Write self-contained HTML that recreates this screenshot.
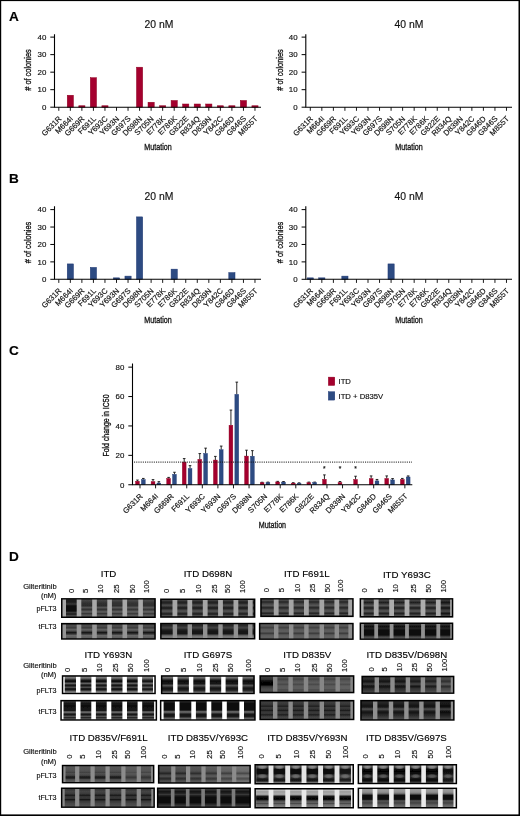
<!DOCTYPE html>
<html><head><meta charset="utf-8"><title>Figure</title>
<style>html,body{margin:0;padding:0;background:#fff;}body{width:520px;height:816px;overflow:hidden;font-family:"Liberation Sans",Arial,sans-serif;}svg{display:block;}</style>
</head><body>
<svg width="520" height="816" viewBox="0 0 520 816" font-family="'Liberation Sans', Arial, sans-serif" fill="#111"><style>text{stroke:#111;stroke-width:0.16px;}</style>
<defs><filter id="bl" x="-5%" y="-5%" width="110%" height="110%"><feGaussianBlur stdDeviation="0.6 0.7"/></filter><filter id="bl2" x="-5%" y="-5%" width="110%" height="110%"><feGaussianBlur stdDeviation="0.5 0.6"/></filter><radialGradient id="rb00"><stop offset="0" stop-color="#000000" stop-opacity="1"/><stop offset="0.55" stop-color="#000000" stop-opacity="0.75"/><stop offset="1" stop-color="#000000" stop-opacity="0"/></radialGradient><radialGradient id="rb60"><stop offset="0" stop-color="#606060" stop-opacity="1"/><stop offset="0.55" stop-color="#606060" stop-opacity="0.75"/><stop offset="1" stop-color="#606060" stop-opacity="0"/></radialGradient><radialGradient id="rb70"><stop offset="0" stop-color="#707070" stop-opacity="1"/><stop offset="0.55" stop-color="#707070" stop-opacity="0.75"/><stop offset="1" stop-color="#707070" stop-opacity="0"/></radialGradient><radialGradient id="rb80"><stop offset="0" stop-color="#808080" stop-opacity="1"/><stop offset="0.55" stop-color="#808080" stop-opacity="0.75"/><stop offset="1" stop-color="#808080" stop-opacity="0"/></radialGradient><radialGradient id="rb90"><stop offset="0" stop-color="#909090" stop-opacity="1"/><stop offset="0.55" stop-color="#909090" stop-opacity="0.75"/><stop offset="1" stop-color="#909090" stop-opacity="0"/></radialGradient><radialGradient id="rba0"><stop offset="0" stop-color="#a0a0a0" stop-opacity="1"/><stop offset="0.55" stop-color="#a0a0a0" stop-opacity="0.75"/><stop offset="1" stop-color="#a0a0a0" stop-opacity="0"/></radialGradient></defs>
<rect x="0" y="0" width="520" height="816" fill="#fff"/>
<text x="9" y="20.6" font-size="13.6" font-weight="bold" fill="#000" stroke="#000" stroke-width="0.3">A</text>
<text x="9" y="183.4" font-size="13.6" font-weight="bold" fill="#000" stroke="#000" stroke-width="0.3">B</text>
<text x="9" y="355.3" font-size="13.6" font-weight="bold" fill="#000" stroke="#000" stroke-width="0.3">C</text>
<text x="9" y="560.7" font-size="13.6" font-weight="bold" fill="#000" stroke="#000" stroke-width="0.3">D</text>
<g>
<rect x="67.24" y="95.24" width="6.2" height="11.96" fill="#A4002E" stroke="#8E0020" stroke-width="0.5"/>
<rect x="78.78" y="105.75" width="6.2" height="1.45" fill="#A4002E" stroke="#8E0020" stroke-width="0.5"/>
<rect x="90.32" y="77.72" width="6.2" height="29.48" fill="#A4002E" stroke="#8E0020" stroke-width="0.5"/>
<rect x="101.86" y="105.75" width="6.2" height="1.45" fill="#A4002E" stroke="#8E0020" stroke-width="0.5"/>
<rect x="136.48" y="67.20" width="6.2" height="40.00" fill="#A4002E" stroke="#8E0020" stroke-width="0.5"/>
<rect x="148.02" y="102.24" width="6.2" height="4.96" fill="#A4002E" stroke="#8E0020" stroke-width="0.5"/>
<rect x="159.56" y="105.75" width="6.2" height="1.45" fill="#A4002E" stroke="#8E0020" stroke-width="0.5"/>
<rect x="171.10" y="100.49" width="6.2" height="6.71" fill="#A4002E" stroke="#8E0020" stroke-width="0.5"/>
<rect x="182.64" y="104.00" width="6.2" height="3.20" fill="#A4002E" stroke="#8E0020" stroke-width="0.5"/>
<rect x="194.18" y="104.00" width="6.2" height="3.20" fill="#A4002E" stroke="#8E0020" stroke-width="0.5"/>
<rect x="205.72" y="104.00" width="6.2" height="3.20" fill="#A4002E" stroke="#8E0020" stroke-width="0.5"/>
<rect x="217.26" y="105.75" width="6.2" height="1.45" fill="#A4002E" stroke="#8E0020" stroke-width="0.5"/>
<rect x="228.80" y="105.75" width="6.2" height="1.45" fill="#A4002E" stroke="#8E0020" stroke-width="0.5"/>
<rect x="240.34" y="100.49" width="6.2" height="6.71" fill="#A4002E" stroke="#8E0020" stroke-width="0.5"/>
<rect x="251.88" y="105.75" width="6.2" height="1.45" fill="#A4002E" stroke="#8E0020" stroke-width="0.5"/>
<path d="M54.5 34.2 V107.2 H261" fill="none" stroke="#000" stroke-width="1.1"/>
<line x1="50.3" x2="54.5" y1="107.20" y2="107.20" stroke="#000" stroke-width="1"/>
<text x="46.3" y="109.95" font-size="7.9" text-anchor="end">0</text>
<line x1="50.3" x2="54.5" y1="89.68" y2="89.68" stroke="#000" stroke-width="1"/>
<text x="46.3" y="92.43" font-size="7.9" text-anchor="end">10</text>
<line x1="50.3" x2="54.5" y1="72.16" y2="72.16" stroke="#000" stroke-width="1"/>
<text x="46.3" y="74.91" font-size="7.9" text-anchor="end">20</text>
<line x1="50.3" x2="54.5" y1="54.64" y2="54.64" stroke="#000" stroke-width="1"/>
<text x="46.3" y="57.39" font-size="7.9" text-anchor="end">30</text>
<line x1="50.3" x2="54.5" y1="37.12" y2="37.12" stroke="#000" stroke-width="1"/>
<text x="46.3" y="39.87" font-size="7.9" text-anchor="end">40</text>
<line x1="58.80" x2="58.80" y1="107.2" y2="110.8" stroke="#000" stroke-width="0.9"/>
<text font-size="7.7" text-anchor="end" transform="translate(61.90 119.20) rotate(-45)">G631R</text>
<line x1="70.34" x2="70.34" y1="107.2" y2="110.8" stroke="#000" stroke-width="0.9"/>
<text font-size="7.7" text-anchor="end" transform="translate(73.44 119.20) rotate(-45)">M664I</text>
<line x1="81.88" x2="81.88" y1="107.2" y2="110.8" stroke="#000" stroke-width="0.9"/>
<text font-size="7.7" text-anchor="end" transform="translate(84.98 119.20) rotate(-45)">G669R</text>
<line x1="93.42" x2="93.42" y1="107.2" y2="110.8" stroke="#000" stroke-width="0.9"/>
<text font-size="7.7" text-anchor="end" transform="translate(96.52 119.20) rotate(-45)">F691L</text>
<line x1="104.96" x2="104.96" y1="107.2" y2="110.8" stroke="#000" stroke-width="0.9"/>
<text font-size="7.7" text-anchor="end" transform="translate(108.06 119.20) rotate(-45)">Y693C</text>
<line x1="116.50" x2="116.50" y1="107.2" y2="110.8" stroke="#000" stroke-width="0.9"/>
<text font-size="7.7" text-anchor="end" transform="translate(119.60 119.20) rotate(-45)">Y693N</text>
<line x1="128.04" x2="128.04" y1="107.2" y2="110.8" stroke="#000" stroke-width="0.9"/>
<text font-size="7.7" text-anchor="end" transform="translate(131.14 119.20) rotate(-45)">G697S</text>
<line x1="139.58" x2="139.58" y1="107.2" y2="110.8" stroke="#000" stroke-width="0.9"/>
<text font-size="7.7" text-anchor="end" transform="translate(142.68 119.20) rotate(-45)">D698N</text>
<line x1="151.12" x2="151.12" y1="107.2" y2="110.8" stroke="#000" stroke-width="0.9"/>
<text font-size="7.7" text-anchor="end" transform="translate(154.22 119.20) rotate(-45)">S705N</text>
<line x1="162.66" x2="162.66" y1="107.2" y2="110.8" stroke="#000" stroke-width="0.9"/>
<text font-size="7.7" text-anchor="end" transform="translate(165.76 119.20) rotate(-45)">E778K</text>
<line x1="174.20" x2="174.20" y1="107.2" y2="110.8" stroke="#000" stroke-width="0.9"/>
<text font-size="7.7" text-anchor="end" transform="translate(177.30 119.20) rotate(-45)">E786K</text>
<line x1="185.74" x2="185.74" y1="107.2" y2="110.8" stroke="#000" stroke-width="0.9"/>
<text font-size="7.7" text-anchor="end" transform="translate(188.84 119.20) rotate(-45)">G822E</text>
<line x1="197.28" x2="197.28" y1="107.2" y2="110.8" stroke="#000" stroke-width="0.9"/>
<text font-size="7.7" text-anchor="end" transform="translate(200.38 119.20) rotate(-45)">R834Q</text>
<line x1="208.82" x2="208.82" y1="107.2" y2="110.8" stroke="#000" stroke-width="0.9"/>
<text font-size="7.7" text-anchor="end" transform="translate(211.92 119.20) rotate(-45)">D839N</text>
<line x1="220.36" x2="220.36" y1="107.2" y2="110.8" stroke="#000" stroke-width="0.9"/>
<text font-size="7.7" text-anchor="end" transform="translate(223.46 119.20) rotate(-45)">Y842C</text>
<line x1="231.90" x2="231.90" y1="107.2" y2="110.8" stroke="#000" stroke-width="0.9"/>
<text font-size="7.7" text-anchor="end" transform="translate(235.00 119.20) rotate(-45)">G846D</text>
<line x1="243.44" x2="243.44" y1="107.2" y2="110.8" stroke="#000" stroke-width="0.9"/>
<text font-size="7.7" text-anchor="end" transform="translate(246.54 119.20) rotate(-45)">G846S</text>
<line x1="254.98" x2="254.98" y1="107.2" y2="110.8" stroke="#000" stroke-width="0.9"/>
<text font-size="7.7" text-anchor="end" transform="translate(258.08 119.20) rotate(-45)">M855T</text>
<text x="159" y="27.9" font-size="10.4" text-anchor="middle">20 nM</text>
<text x="31.4" y="70" font-size="9.5" text-anchor="middle" textLength="41.5" lengthAdjust="spacingAndGlyphs" font-weight="normal" style="stroke-width:0.32px" transform="rotate(-90 31.4 70)"># of colonies</text>
<text x="158" y="150" font-size="9.8" text-anchor="middle" textLength="27.4" lengthAdjust="spacingAndGlyphs" font-weight="normal" style="stroke-width:0.32px">Mutation</text>
</g>
<g>
<path d="M305.8 34.2 V107.2 H512" fill="none" stroke="#000" stroke-width="1.1"/>
<line x1="301.6" x2="305.8" y1="107.20" y2="107.20" stroke="#000" stroke-width="1"/>
<text x="297.6" y="109.95" font-size="7.9" text-anchor="end">0</text>
<line x1="301.6" x2="305.8" y1="89.68" y2="89.68" stroke="#000" stroke-width="1"/>
<text x="297.6" y="92.43" font-size="7.9" text-anchor="end">10</text>
<line x1="301.6" x2="305.8" y1="72.16" y2="72.16" stroke="#000" stroke-width="1"/>
<text x="297.6" y="74.91" font-size="7.9" text-anchor="end">20</text>
<line x1="301.6" x2="305.8" y1="54.64" y2="54.64" stroke="#000" stroke-width="1"/>
<text x="297.6" y="57.39" font-size="7.9" text-anchor="end">30</text>
<line x1="301.6" x2="305.8" y1="37.12" y2="37.12" stroke="#000" stroke-width="1"/>
<text x="297.6" y="39.87" font-size="7.9" text-anchor="end">40</text>
<line x1="310.30" x2="310.30" y1="107.2" y2="110.8" stroke="#000" stroke-width="0.9"/>
<text font-size="7.7" text-anchor="end" transform="translate(313.40 119.20) rotate(-45)">G631R</text>
<line x1="321.84" x2="321.84" y1="107.2" y2="110.8" stroke="#000" stroke-width="0.9"/>
<text font-size="7.7" text-anchor="end" transform="translate(324.94 119.20) rotate(-45)">M664I</text>
<line x1="333.38" x2="333.38" y1="107.2" y2="110.8" stroke="#000" stroke-width="0.9"/>
<text font-size="7.7" text-anchor="end" transform="translate(336.48 119.20) rotate(-45)">G669R</text>
<line x1="344.92" x2="344.92" y1="107.2" y2="110.8" stroke="#000" stroke-width="0.9"/>
<text font-size="7.7" text-anchor="end" transform="translate(348.02 119.20) rotate(-45)">F691L</text>
<line x1="356.46" x2="356.46" y1="107.2" y2="110.8" stroke="#000" stroke-width="0.9"/>
<text font-size="7.7" text-anchor="end" transform="translate(359.56 119.20) rotate(-45)">Y693C</text>
<line x1="368.00" x2="368.00" y1="107.2" y2="110.8" stroke="#000" stroke-width="0.9"/>
<text font-size="7.7" text-anchor="end" transform="translate(371.10 119.20) rotate(-45)">Y693N</text>
<line x1="379.54" x2="379.54" y1="107.2" y2="110.8" stroke="#000" stroke-width="0.9"/>
<text font-size="7.7" text-anchor="end" transform="translate(382.64 119.20) rotate(-45)">G697S</text>
<line x1="391.08" x2="391.08" y1="107.2" y2="110.8" stroke="#000" stroke-width="0.9"/>
<text font-size="7.7" text-anchor="end" transform="translate(394.18 119.20) rotate(-45)">D698N</text>
<line x1="402.62" x2="402.62" y1="107.2" y2="110.8" stroke="#000" stroke-width="0.9"/>
<text font-size="7.7" text-anchor="end" transform="translate(405.72 119.20) rotate(-45)">S705N</text>
<line x1="414.16" x2="414.16" y1="107.2" y2="110.8" stroke="#000" stroke-width="0.9"/>
<text font-size="7.7" text-anchor="end" transform="translate(417.26 119.20) rotate(-45)">E778K</text>
<line x1="425.70" x2="425.70" y1="107.2" y2="110.8" stroke="#000" stroke-width="0.9"/>
<text font-size="7.7" text-anchor="end" transform="translate(428.80 119.20) rotate(-45)">E786K</text>
<line x1="437.24" x2="437.24" y1="107.2" y2="110.8" stroke="#000" stroke-width="0.9"/>
<text font-size="7.7" text-anchor="end" transform="translate(440.34 119.20) rotate(-45)">G822E</text>
<line x1="448.78" x2="448.78" y1="107.2" y2="110.8" stroke="#000" stroke-width="0.9"/>
<text font-size="7.7" text-anchor="end" transform="translate(451.88 119.20) rotate(-45)">R834Q</text>
<line x1="460.32" x2="460.32" y1="107.2" y2="110.8" stroke="#000" stroke-width="0.9"/>
<text font-size="7.7" text-anchor="end" transform="translate(463.42 119.20) rotate(-45)">D839N</text>
<line x1="471.86" x2="471.86" y1="107.2" y2="110.8" stroke="#000" stroke-width="0.9"/>
<text font-size="7.7" text-anchor="end" transform="translate(474.96 119.20) rotate(-45)">Y842C</text>
<line x1="483.40" x2="483.40" y1="107.2" y2="110.8" stroke="#000" stroke-width="0.9"/>
<text font-size="7.7" text-anchor="end" transform="translate(486.50 119.20) rotate(-45)">G846D</text>
<line x1="494.94" x2="494.94" y1="107.2" y2="110.8" stroke="#000" stroke-width="0.9"/>
<text font-size="7.7" text-anchor="end" transform="translate(498.04 119.20) rotate(-45)">G846S</text>
<line x1="506.48" x2="506.48" y1="107.2" y2="110.8" stroke="#000" stroke-width="0.9"/>
<text font-size="7.7" text-anchor="end" transform="translate(509.58 119.20) rotate(-45)">M855T</text>
<text x="409" y="27.9" font-size="10.4" text-anchor="middle">40 nM</text>
<text x="283" y="70" font-size="9.5" text-anchor="middle" textLength="41.5" lengthAdjust="spacingAndGlyphs" font-weight="normal" style="stroke-width:0.32px" transform="rotate(-90 283 70)"># of colonies</text>
<text x="409" y="150" font-size="9.8" text-anchor="middle" textLength="27.4" lengthAdjust="spacingAndGlyphs" font-weight="normal" style="stroke-width:0.32px">Mutation</text>
</g>
<g>
<rect x="67.24" y="263.92" width="6.2" height="15.38" fill="#2D4B82" stroke="#1B3470" stroke-width="0.5"/>
<rect x="90.32" y="267.41" width="6.2" height="11.89" fill="#2D4B82" stroke="#1B3470" stroke-width="0.5"/>
<rect x="113.40" y="277.86" width="6.2" height="1.44" fill="#2D4B82" stroke="#1B3470" stroke-width="0.5"/>
<rect x="124.94" y="276.12" width="6.2" height="3.18" fill="#2D4B82" stroke="#1B3470" stroke-width="0.5"/>
<rect x="136.48" y="216.89" width="6.2" height="62.41" fill="#2D4B82" stroke="#1B3470" stroke-width="0.5"/>
<rect x="171.10" y="269.15" width="6.2" height="10.15" fill="#2D4B82" stroke="#1B3470" stroke-width="0.5"/>
<rect x="228.80" y="272.63" width="6.2" height="6.67" fill="#2D4B82" stroke="#1B3470" stroke-width="0.5"/>
<path d="M54.5 206.2 V279.3 H261" fill="none" stroke="#000" stroke-width="1.1"/>
<line x1="50.3" x2="54.5" y1="279.30" y2="279.30" stroke="#000" stroke-width="1"/>
<text x="46.3" y="282.05" font-size="7.9" text-anchor="end">0</text>
<line x1="50.3" x2="54.5" y1="261.88" y2="261.88" stroke="#000" stroke-width="1"/>
<text x="46.3" y="264.63" font-size="7.9" text-anchor="end">10</text>
<line x1="50.3" x2="54.5" y1="244.46" y2="244.46" stroke="#000" stroke-width="1"/>
<text x="46.3" y="247.21" font-size="7.9" text-anchor="end">20</text>
<line x1="50.3" x2="54.5" y1="227.04" y2="227.04" stroke="#000" stroke-width="1"/>
<text x="46.3" y="229.79" font-size="7.9" text-anchor="end">30</text>
<line x1="50.3" x2="54.5" y1="209.62" y2="209.62" stroke="#000" stroke-width="1"/>
<text x="46.3" y="212.37" font-size="7.9" text-anchor="end">40</text>
<line x1="58.80" x2="58.80" y1="279.3" y2="282.90000000000003" stroke="#000" stroke-width="0.9"/>
<text font-size="7.7" text-anchor="end" transform="translate(61.90 291.30) rotate(-45)">G631R</text>
<line x1="70.34" x2="70.34" y1="279.3" y2="282.90000000000003" stroke="#000" stroke-width="0.9"/>
<text font-size="7.7" text-anchor="end" transform="translate(73.44 291.30) rotate(-45)">M664I</text>
<line x1="81.88" x2="81.88" y1="279.3" y2="282.90000000000003" stroke="#000" stroke-width="0.9"/>
<text font-size="7.7" text-anchor="end" transform="translate(84.98 291.30) rotate(-45)">G669R</text>
<line x1="93.42" x2="93.42" y1="279.3" y2="282.90000000000003" stroke="#000" stroke-width="0.9"/>
<text font-size="7.7" text-anchor="end" transform="translate(96.52 291.30) rotate(-45)">F691L</text>
<line x1="104.96" x2="104.96" y1="279.3" y2="282.90000000000003" stroke="#000" stroke-width="0.9"/>
<text font-size="7.7" text-anchor="end" transform="translate(108.06 291.30) rotate(-45)">Y693C</text>
<line x1="116.50" x2="116.50" y1="279.3" y2="282.90000000000003" stroke="#000" stroke-width="0.9"/>
<text font-size="7.7" text-anchor="end" transform="translate(119.60 291.30) rotate(-45)">Y693N</text>
<line x1="128.04" x2="128.04" y1="279.3" y2="282.90000000000003" stroke="#000" stroke-width="0.9"/>
<text font-size="7.7" text-anchor="end" transform="translate(131.14 291.30) rotate(-45)">G697S</text>
<line x1="139.58" x2="139.58" y1="279.3" y2="282.90000000000003" stroke="#000" stroke-width="0.9"/>
<text font-size="7.7" text-anchor="end" transform="translate(142.68 291.30) rotate(-45)">D698N</text>
<line x1="151.12" x2="151.12" y1="279.3" y2="282.90000000000003" stroke="#000" stroke-width="0.9"/>
<text font-size="7.7" text-anchor="end" transform="translate(154.22 291.30) rotate(-45)">S705N</text>
<line x1="162.66" x2="162.66" y1="279.3" y2="282.90000000000003" stroke="#000" stroke-width="0.9"/>
<text font-size="7.7" text-anchor="end" transform="translate(165.76 291.30) rotate(-45)">E778K</text>
<line x1="174.20" x2="174.20" y1="279.3" y2="282.90000000000003" stroke="#000" stroke-width="0.9"/>
<text font-size="7.7" text-anchor="end" transform="translate(177.30 291.30) rotate(-45)">E786K</text>
<line x1="185.74" x2="185.74" y1="279.3" y2="282.90000000000003" stroke="#000" stroke-width="0.9"/>
<text font-size="7.7" text-anchor="end" transform="translate(188.84 291.30) rotate(-45)">G822E</text>
<line x1="197.28" x2="197.28" y1="279.3" y2="282.90000000000003" stroke="#000" stroke-width="0.9"/>
<text font-size="7.7" text-anchor="end" transform="translate(200.38 291.30) rotate(-45)">R834Q</text>
<line x1="208.82" x2="208.82" y1="279.3" y2="282.90000000000003" stroke="#000" stroke-width="0.9"/>
<text font-size="7.7" text-anchor="end" transform="translate(211.92 291.30) rotate(-45)">D839N</text>
<line x1="220.36" x2="220.36" y1="279.3" y2="282.90000000000003" stroke="#000" stroke-width="0.9"/>
<text font-size="7.7" text-anchor="end" transform="translate(223.46 291.30) rotate(-45)">Y842C</text>
<line x1="231.90" x2="231.90" y1="279.3" y2="282.90000000000003" stroke="#000" stroke-width="0.9"/>
<text font-size="7.7" text-anchor="end" transform="translate(235.00 291.30) rotate(-45)">G846D</text>
<line x1="243.44" x2="243.44" y1="279.3" y2="282.90000000000003" stroke="#000" stroke-width="0.9"/>
<text font-size="7.7" text-anchor="end" transform="translate(246.54 291.30) rotate(-45)">G846S</text>
<line x1="254.98" x2="254.98" y1="279.3" y2="282.90000000000003" stroke="#000" stroke-width="0.9"/>
<text font-size="7.7" text-anchor="end" transform="translate(258.08 291.30) rotate(-45)">M855T</text>
<text x="159" y="199.5" font-size="10.4" text-anchor="middle">20 nM</text>
<text x="31.4" y="242.5" font-size="9.5" text-anchor="middle" textLength="41.5" lengthAdjust="spacingAndGlyphs" font-weight="normal" style="stroke-width:0.32px" transform="rotate(-90 31.4 242.5)"># of colonies</text>
<text x="158" y="322.5" font-size="9.8" text-anchor="middle" textLength="27.4" lengthAdjust="spacingAndGlyphs" font-weight="normal" style="stroke-width:0.32px">Mutation</text>
</g>
<g>
<rect x="307.20" y="277.86" width="6.2" height="1.44" fill="#2D4B82" stroke="#1B3470" stroke-width="0.5"/>
<rect x="318.74" y="277.86" width="6.2" height="1.44" fill="#2D4B82" stroke="#1B3470" stroke-width="0.5"/>
<rect x="341.82" y="276.12" width="6.2" height="3.18" fill="#2D4B82" stroke="#1B3470" stroke-width="0.5"/>
<rect x="387.98" y="263.92" width="6.2" height="15.38" fill="#2D4B82" stroke="#1B3470" stroke-width="0.5"/>
<path d="M305.8 206.2 V279.3 H512" fill="none" stroke="#000" stroke-width="1.1"/>
<line x1="301.6" x2="305.8" y1="279.30" y2="279.30" stroke="#000" stroke-width="1"/>
<text x="297.6" y="282.05" font-size="7.9" text-anchor="end">0</text>
<line x1="301.6" x2="305.8" y1="261.88" y2="261.88" stroke="#000" stroke-width="1"/>
<text x="297.6" y="264.63" font-size="7.9" text-anchor="end">10</text>
<line x1="301.6" x2="305.8" y1="244.46" y2="244.46" stroke="#000" stroke-width="1"/>
<text x="297.6" y="247.21" font-size="7.9" text-anchor="end">20</text>
<line x1="301.6" x2="305.8" y1="227.04" y2="227.04" stroke="#000" stroke-width="1"/>
<text x="297.6" y="229.79" font-size="7.9" text-anchor="end">30</text>
<line x1="301.6" x2="305.8" y1="209.62" y2="209.62" stroke="#000" stroke-width="1"/>
<text x="297.6" y="212.37" font-size="7.9" text-anchor="end">40</text>
<line x1="310.30" x2="310.30" y1="279.3" y2="282.90000000000003" stroke="#000" stroke-width="0.9"/>
<text font-size="7.7" text-anchor="end" transform="translate(313.40 291.30) rotate(-45)">G631R</text>
<line x1="321.84" x2="321.84" y1="279.3" y2="282.90000000000003" stroke="#000" stroke-width="0.9"/>
<text font-size="7.7" text-anchor="end" transform="translate(324.94 291.30) rotate(-45)">M664I</text>
<line x1="333.38" x2="333.38" y1="279.3" y2="282.90000000000003" stroke="#000" stroke-width="0.9"/>
<text font-size="7.7" text-anchor="end" transform="translate(336.48 291.30) rotate(-45)">G669R</text>
<line x1="344.92" x2="344.92" y1="279.3" y2="282.90000000000003" stroke="#000" stroke-width="0.9"/>
<text font-size="7.7" text-anchor="end" transform="translate(348.02 291.30) rotate(-45)">F691L</text>
<line x1="356.46" x2="356.46" y1="279.3" y2="282.90000000000003" stroke="#000" stroke-width="0.9"/>
<text font-size="7.7" text-anchor="end" transform="translate(359.56 291.30) rotate(-45)">Y693C</text>
<line x1="368.00" x2="368.00" y1="279.3" y2="282.90000000000003" stroke="#000" stroke-width="0.9"/>
<text font-size="7.7" text-anchor="end" transform="translate(371.10 291.30) rotate(-45)">Y693N</text>
<line x1="379.54" x2="379.54" y1="279.3" y2="282.90000000000003" stroke="#000" stroke-width="0.9"/>
<text font-size="7.7" text-anchor="end" transform="translate(382.64 291.30) rotate(-45)">G697S</text>
<line x1="391.08" x2="391.08" y1="279.3" y2="282.90000000000003" stroke="#000" stroke-width="0.9"/>
<text font-size="7.7" text-anchor="end" transform="translate(394.18 291.30) rotate(-45)">D698N</text>
<line x1="402.62" x2="402.62" y1="279.3" y2="282.90000000000003" stroke="#000" stroke-width="0.9"/>
<text font-size="7.7" text-anchor="end" transform="translate(405.72 291.30) rotate(-45)">S705N</text>
<line x1="414.16" x2="414.16" y1="279.3" y2="282.90000000000003" stroke="#000" stroke-width="0.9"/>
<text font-size="7.7" text-anchor="end" transform="translate(417.26 291.30) rotate(-45)">E778K</text>
<line x1="425.70" x2="425.70" y1="279.3" y2="282.90000000000003" stroke="#000" stroke-width="0.9"/>
<text font-size="7.7" text-anchor="end" transform="translate(428.80 291.30) rotate(-45)">E786K</text>
<line x1="437.24" x2="437.24" y1="279.3" y2="282.90000000000003" stroke="#000" stroke-width="0.9"/>
<text font-size="7.7" text-anchor="end" transform="translate(440.34 291.30) rotate(-45)">G822E</text>
<line x1="448.78" x2="448.78" y1="279.3" y2="282.90000000000003" stroke="#000" stroke-width="0.9"/>
<text font-size="7.7" text-anchor="end" transform="translate(451.88 291.30) rotate(-45)">R834Q</text>
<line x1="460.32" x2="460.32" y1="279.3" y2="282.90000000000003" stroke="#000" stroke-width="0.9"/>
<text font-size="7.7" text-anchor="end" transform="translate(463.42 291.30) rotate(-45)">D839N</text>
<line x1="471.86" x2="471.86" y1="279.3" y2="282.90000000000003" stroke="#000" stroke-width="0.9"/>
<text font-size="7.7" text-anchor="end" transform="translate(474.96 291.30) rotate(-45)">Y842C</text>
<line x1="483.40" x2="483.40" y1="279.3" y2="282.90000000000003" stroke="#000" stroke-width="0.9"/>
<text font-size="7.7" text-anchor="end" transform="translate(486.50 291.30) rotate(-45)">G846D</text>
<line x1="494.94" x2="494.94" y1="279.3" y2="282.90000000000003" stroke="#000" stroke-width="0.9"/>
<text font-size="7.7" text-anchor="end" transform="translate(498.04 291.30) rotate(-45)">G846S</text>
<line x1="506.48" x2="506.48" y1="279.3" y2="282.90000000000003" stroke="#000" stroke-width="0.9"/>
<text font-size="7.7" text-anchor="end" transform="translate(509.58 291.30) rotate(-45)">M855T</text>
<text x="409" y="199.5" font-size="10.4" text-anchor="middle">40 nM</text>
<text x="283" y="242.5" font-size="9.5" text-anchor="middle" textLength="41.5" lengthAdjust="spacingAndGlyphs" font-weight="normal" style="stroke-width:0.32px" transform="rotate(-90 283 242.5)"># of colonies</text>
<text x="409" y="322.5" font-size="9.8" text-anchor="middle" textLength="27.4" lengthAdjust="spacingAndGlyphs" font-weight="normal" style="stroke-width:0.32px">Mutation</text>
</g>
<g>
<path d="M137.45 481.22 V480.05 M136.15 480.05 H138.75" stroke="#111" stroke-width="0.9" fill="none"/>
<rect x="135.55" y="481.22" width="3.8" height="3.53" fill="#A4002E" stroke="#8E0020" stroke-width="0.4"/>
<path d="M143.30 479.61 V478.43 M142.00 478.43 H144.60" stroke="#111" stroke-width="0.9" fill="none"/>
<rect x="141.40" y="479.61" width="3.8" height="5.14" fill="#2D4B82" stroke="#1B3470" stroke-width="0.4"/>
<path d="M153.03 481.66 V479.61 M151.73 479.61 H154.33" stroke="#111" stroke-width="0.9" fill="none"/>
<rect x="151.13" y="481.66" width="3.8" height="3.09" fill="#A4002E" stroke="#8E0020" stroke-width="0.4"/>
<path d="M158.88 482.99 V481.66 M157.58 481.66 H160.18" stroke="#111" stroke-width="0.9" fill="none"/>
<rect x="156.98" y="482.99" width="3.8" height="1.76" fill="#2D4B82" stroke="#1B3470" stroke-width="0.4"/>
<path d="M168.61 478.43 V477.40 M167.31 477.40 H169.91" stroke="#111" stroke-width="0.9" fill="none"/>
<rect x="166.71" y="478.43" width="3.8" height="6.32" fill="#A4002E" stroke="#8E0020" stroke-width="0.4"/>
<path d="M174.46 474.31 V472.25 M173.16 472.25 H175.76" stroke="#111" stroke-width="0.9" fill="none"/>
<rect x="172.56" y="474.31" width="3.8" height="10.44" fill="#2D4B82" stroke="#1B3470" stroke-width="0.4"/>
<path d="M184.19 462.11 V458.58 M182.89 458.58 H185.49" stroke="#111" stroke-width="0.9" fill="none"/>
<rect x="182.29" y="462.11" width="3.8" height="22.64" fill="#A4002E" stroke="#8E0020" stroke-width="0.4"/>
<path d="M190.04 468.58 V465.64 M188.74 465.64 H191.34" stroke="#111" stroke-width="0.9" fill="none"/>
<rect x="188.14" y="468.58" width="3.8" height="16.17" fill="#2D4B82" stroke="#1B3470" stroke-width="0.4"/>
<path d="M199.77 459.32 V453.59 M198.47 453.59 H201.07" stroke="#111" stroke-width="0.9" fill="none"/>
<rect x="197.87" y="459.32" width="3.8" height="25.43" fill="#A4002E" stroke="#8E0020" stroke-width="0.4"/>
<path d="M205.62 453.44 V448.15 M204.32 448.15 H206.92" stroke="#111" stroke-width="0.9" fill="none"/>
<rect x="203.72" y="453.44" width="3.8" height="31.31" fill="#2D4B82" stroke="#1B3470" stroke-width="0.4"/>
<path d="M215.35 460.05 V456.38 M214.05 456.38 H216.65" stroke="#111" stroke-width="0.9" fill="none"/>
<rect x="213.45" y="460.05" width="3.8" height="24.70" fill="#A4002E" stroke="#8E0020" stroke-width="0.4"/>
<path d="M221.20 449.76 V446.09 M219.90 446.09 H222.50" stroke="#111" stroke-width="0.9" fill="none"/>
<rect x="219.30" y="449.76" width="3.8" height="34.99" fill="#2D4B82" stroke="#1B3470" stroke-width="0.4"/>
<path d="M230.93 425.22 V410.07 M229.63 410.07 H232.23" stroke="#111" stroke-width="0.9" fill="none"/>
<rect x="229.03" y="425.22" width="3.8" height="59.53" fill="#A4002E" stroke="#8E0020" stroke-width="0.4"/>
<path d="M236.78 394.35 V382.14 M235.48 382.14 H238.08" stroke="#111" stroke-width="0.9" fill="none"/>
<rect x="234.88" y="394.35" width="3.8" height="90.41" fill="#2D4B82" stroke="#1B3470" stroke-width="0.4"/>
<path d="M246.51 456.08 V450.20 M245.21 450.20 H247.81" stroke="#111" stroke-width="0.9" fill="none"/>
<rect x="244.61" y="456.08" width="3.8" height="28.66" fill="#A4002E" stroke="#8E0020" stroke-width="0.4"/>
<path d="M252.36 456.23 V450.65 M251.06 450.65 H253.66" stroke="#111" stroke-width="0.9" fill="none"/>
<rect x="250.46" y="456.23" width="3.8" height="28.52" fill="#2D4B82" stroke="#1B3470" stroke-width="0.4"/>
<path d="M262.09 482.69 V482.25 M260.79 482.25 H263.39" stroke="#111" stroke-width="0.9" fill="none"/>
<rect x="260.19" y="482.69" width="3.8" height="2.06" fill="#A4002E" stroke="#8E0020" stroke-width="0.4"/>
<path d="M267.94 482.55 V482.10 M266.64 482.10 H269.24" stroke="#111" stroke-width="0.9" fill="none"/>
<rect x="266.04" y="482.55" width="3.8" height="2.21" fill="#2D4B82" stroke="#1B3470" stroke-width="0.4"/>
<path d="M277.67 481.96 V481.37 M276.37 481.37 H278.97" stroke="#111" stroke-width="0.9" fill="none"/>
<rect x="275.77" y="481.96" width="3.8" height="2.79" fill="#A4002E" stroke="#8E0020" stroke-width="0.4"/>
<path d="M283.52 482.10 V481.52 M282.22 481.52 H284.82" stroke="#111" stroke-width="0.9" fill="none"/>
<rect x="281.62" y="482.10" width="3.8" height="2.65" fill="#2D4B82" stroke="#1B3470" stroke-width="0.4"/>
<path d="M293.25 483.13 V482.69 M291.95 482.69 H294.55" stroke="#111" stroke-width="0.9" fill="none"/>
<rect x="291.35" y="483.13" width="3.8" height="1.62" fill="#A4002E" stroke="#8E0020" stroke-width="0.4"/>
<path d="M299.10 483.28 V482.84 M297.80 482.84 H300.40" stroke="#111" stroke-width="0.9" fill="none"/>
<rect x="297.20" y="483.28" width="3.8" height="1.47" fill="#2D4B82" stroke="#1B3470" stroke-width="0.4"/>
<path d="M308.83 482.69 V482.10 M307.53 482.10 H310.13" stroke="#111" stroke-width="0.9" fill="none"/>
<rect x="306.93" y="482.69" width="3.8" height="2.06" fill="#A4002E" stroke="#8E0020" stroke-width="0.4"/>
<path d="M314.68 482.55 V482.10 M313.38 482.10 H315.98" stroke="#111" stroke-width="0.9" fill="none"/>
<rect x="312.78" y="482.55" width="3.8" height="2.21" fill="#2D4B82" stroke="#1B3470" stroke-width="0.4"/>
<path d="M324.41 479.31 V474.90 M323.11 474.90 H325.71" stroke="#111" stroke-width="0.9" fill="none"/>
<rect x="322.51" y="479.31" width="3.8" height="5.44" fill="#A4002E" stroke="#8E0020" stroke-width="0.4"/>
<path d="M339.99 482.55 V481.52 M338.69 481.52 H341.29" stroke="#111" stroke-width="0.9" fill="none"/>
<rect x="338.09" y="482.55" width="3.8" height="2.21" fill="#A4002E" stroke="#8E0020" stroke-width="0.4"/>
<path d="M355.57 479.46 V476.22 M354.27 476.22 H356.87" stroke="#111" stroke-width="0.9" fill="none"/>
<rect x="353.67" y="479.46" width="3.8" height="5.29" fill="#A4002E" stroke="#8E0020" stroke-width="0.4"/>
<path d="M371.15 478.58 V475.93 M369.85 475.93 H372.45" stroke="#111" stroke-width="0.9" fill="none"/>
<rect x="369.25" y="478.58" width="3.8" height="6.17" fill="#A4002E" stroke="#8E0020" stroke-width="0.4"/>
<path d="M377.00 480.93 V479.46 M375.70 479.46 H378.30" stroke="#111" stroke-width="0.9" fill="none"/>
<rect x="375.10" y="480.93" width="3.8" height="3.82" fill="#2D4B82" stroke="#1B3470" stroke-width="0.4"/>
<path d="M386.73 478.43 V475.93 M385.43 475.93 H388.03" stroke="#111" stroke-width="0.9" fill="none"/>
<rect x="384.83" y="478.43" width="3.8" height="6.32" fill="#A4002E" stroke="#8E0020" stroke-width="0.4"/>
<path d="M392.58 479.90 V478.58 M391.28 478.58 H393.88" stroke="#111" stroke-width="0.9" fill="none"/>
<rect x="390.68" y="479.90" width="3.8" height="4.85" fill="#2D4B82" stroke="#1B3470" stroke-width="0.4"/>
<path d="M402.31 479.46 V478.43 M401.01 478.43 H403.61" stroke="#111" stroke-width="0.9" fill="none"/>
<rect x="400.41" y="479.46" width="3.8" height="5.29" fill="#A4002E" stroke="#8E0020" stroke-width="0.4"/>
<path d="M408.16 476.96 V475.93 M406.86 475.93 H409.46" stroke="#111" stroke-width="0.9" fill="none"/>
<rect x="406.26" y="476.96" width="3.8" height="7.79" fill="#2D4B82" stroke="#1B3470" stroke-width="0.4"/>
<line x1="134" x2="412" y1="462.1" y2="462.1" stroke="#111" stroke-width="1" stroke-dasharray="1.1 1.1"/>
<path d="M132.5 363.6 V484.75 H412.3" fill="none" stroke="#000" stroke-width="1.1"/>
<line x1="128.3" x2="132.5" y1="484.75" y2="484.75" stroke="#000" stroke-width="1"/>
<text x="124.3" y="487.50" font-size="7.9" text-anchor="end">0</text>
<line x1="128.3" x2="132.5" y1="455.35" y2="455.35" stroke="#000" stroke-width="1"/>
<text x="124.3" y="458.10" font-size="7.9" text-anchor="end">20</text>
<line x1="128.3" x2="132.5" y1="425.95" y2="425.95" stroke="#000" stroke-width="1"/>
<text x="124.3" y="428.70" font-size="7.9" text-anchor="end">40</text>
<line x1="128.3" x2="132.5" y1="396.55" y2="396.55" stroke="#000" stroke-width="1"/>
<text x="124.3" y="399.30" font-size="7.9" text-anchor="end">60</text>
<line x1="128.3" x2="132.5" y1="367.15" y2="367.15" stroke="#000" stroke-width="1"/>
<text x="124.3" y="369.90" font-size="7.9" text-anchor="end">80</text>
<line x1="140.00" x2="140.00" y1="484.75" y2="488.35" stroke="#000" stroke-width="0.9"/>
<text font-size="7.7" text-anchor="end" transform="translate(143.10 496.75) rotate(-45)">G631R</text>
<line x1="155.58" x2="155.58" y1="484.75" y2="488.35" stroke="#000" stroke-width="0.9"/>
<text font-size="7.7" text-anchor="end" transform="translate(158.68 496.75) rotate(-45)">M664I</text>
<line x1="171.16" x2="171.16" y1="484.75" y2="488.35" stroke="#000" stroke-width="0.9"/>
<text font-size="7.7" text-anchor="end" transform="translate(174.26 496.75) rotate(-45)">G669R</text>
<line x1="186.74" x2="186.74" y1="484.75" y2="488.35" stroke="#000" stroke-width="0.9"/>
<text font-size="7.7" text-anchor="end" transform="translate(189.84 496.75) rotate(-45)">F691L</text>
<line x1="202.32" x2="202.32" y1="484.75" y2="488.35" stroke="#000" stroke-width="0.9"/>
<text font-size="7.7" text-anchor="end" transform="translate(205.42 496.75) rotate(-45)">Y693C</text>
<line x1="217.90" x2="217.90" y1="484.75" y2="488.35" stroke="#000" stroke-width="0.9"/>
<text font-size="7.7" text-anchor="end" transform="translate(221.00 496.75) rotate(-45)">Y693N</text>
<line x1="233.48" x2="233.48" y1="484.75" y2="488.35" stroke="#000" stroke-width="0.9"/>
<text font-size="7.7" text-anchor="end" transform="translate(236.58 496.75) rotate(-45)">G697S</text>
<line x1="249.06" x2="249.06" y1="484.75" y2="488.35" stroke="#000" stroke-width="0.9"/>
<text font-size="7.7" text-anchor="end" transform="translate(252.16 496.75) rotate(-45)">D698N</text>
<line x1="264.64" x2="264.64" y1="484.75" y2="488.35" stroke="#000" stroke-width="0.9"/>
<text font-size="7.7" text-anchor="end" transform="translate(267.74 496.75) rotate(-45)">S705N</text>
<line x1="280.22" x2="280.22" y1="484.75" y2="488.35" stroke="#000" stroke-width="0.9"/>
<text font-size="7.7" text-anchor="end" transform="translate(283.32 496.75) rotate(-45)">E778K</text>
<line x1="295.80" x2="295.80" y1="484.75" y2="488.35" stroke="#000" stroke-width="0.9"/>
<text font-size="7.7" text-anchor="end" transform="translate(298.90 496.75) rotate(-45)">E786K</text>
<line x1="311.38" x2="311.38" y1="484.75" y2="488.35" stroke="#000" stroke-width="0.9"/>
<text font-size="7.7" text-anchor="end" transform="translate(314.48 496.75) rotate(-45)">G822E</text>
<line x1="326.96" x2="326.96" y1="484.75" y2="488.35" stroke="#000" stroke-width="0.9"/>
<text font-size="7.7" text-anchor="end" transform="translate(330.06 496.75) rotate(-45)">R834Q</text>
<line x1="342.54" x2="342.54" y1="484.75" y2="488.35" stroke="#000" stroke-width="0.9"/>
<text font-size="7.7" text-anchor="end" transform="translate(345.64 496.75) rotate(-45)">D839N</text>
<line x1="358.12" x2="358.12" y1="484.75" y2="488.35" stroke="#000" stroke-width="0.9"/>
<text font-size="7.7" text-anchor="end" transform="translate(361.22 496.75) rotate(-45)">Y842C</text>
<line x1="373.70" x2="373.70" y1="484.75" y2="488.35" stroke="#000" stroke-width="0.9"/>
<text font-size="7.7" text-anchor="end" transform="translate(376.80 496.75) rotate(-45)">G846D</text>
<line x1="389.28" x2="389.28" y1="484.75" y2="488.35" stroke="#000" stroke-width="0.9"/>
<text font-size="7.7" text-anchor="end" transform="translate(392.38 496.75) rotate(-45)">G846S</text>
<line x1="404.86" x2="404.86" y1="484.75" y2="488.35" stroke="#000" stroke-width="0.9"/>
<text font-size="7.7" text-anchor="end" transform="translate(407.96 496.75) rotate(-45)">M855T</text>
<text x="324.41" y="470.9" font-size="6.6" text-anchor="middle">*</text>
<text x="339.99" y="470.9" font-size="6.6" text-anchor="middle">*</text>
<text x="355.57" y="470.9" font-size="6.6" text-anchor="middle">*</text>
<text x="109.0" y="425.5" font-size="9.5" text-anchor="middle" textLength="62" lengthAdjust="spacingAndGlyphs" font-weight="normal" style="stroke-width:0.32px" transform="rotate(-90 109.0 425.5)">Fold change in IC50</text>
<text x="272.4" y="527.6" font-size="9.8" text-anchor="middle" textLength="27.4" lengthAdjust="spacingAndGlyphs" font-weight="normal" style="stroke-width:0.32px">Mutation</text>
<rect x="328.3" y="377.1" width="6.5" height="8.4" fill="#A4002E" stroke="#8E0020" stroke-width="0.4"/>
<rect x="328.3" y="391.7" width="6.5" height="8.4" fill="#2D4B82" stroke="#1B3470" stroke-width="0.4"/>
<text x="338.5" y="384.1" font-size="7.7">ITD</text>
<text x="338.5" y="398.6" font-size="7.7">ITD + D835V</text>
</g>
<g><clipPath id="c1"><rect x="62.50" y="599.60" width="91.80" height="16.90"/></clipPath>
<rect x="61.00" y="598.10" width="94.80" height="19.90" fill="#000"/>
<g clip-path="url(#c1)"><g filter="url(#bl)">
<rect x="59.00" y="596.10" width="98.80" height="23.90" fill="#a8a8a8"/>
<linearGradient id="g1_0" x1="0" y1="0" x2="0" y2="1"><stop offset="0.000" stop-color="#404040"/><stop offset="0.112" stop-color="#181818"/><stop offset="0.201" stop-color="#202020"/><stop offset="0.290" stop-color="#383838"/><stop offset="0.379" stop-color="#0c0c0c"/><stop offset="0.645" stop-color="#080808"/><stop offset="0.734" stop-color="#383838"/><stop offset="0.822" stop-color="#1c1c1c"/><stop offset="0.911" stop-color="#505050"/><stop offset="1.000" stop-color="#555555"/></linearGradient>
<rect x="66.00" y="598.60" width="10.70" height="18.90" fill="url(#g1_0)"/>
<linearGradient id="g1_1" x1="0" y1="0" x2="0" y2="1"><stop offset="0.000" stop-color="#4c4c4c"/><stop offset="0.083" stop-color="#464646"/><stop offset="0.231" stop-color="#303030"/><stop offset="0.379" stop-color="#2c2c2c"/><stop offset="0.467" stop-color="#545454"/><stop offset="0.586" stop-color="#303030"/><stop offset="0.704" stop-color="#626262"/><stop offset="0.793" stop-color="#363636"/><stop offset="0.882" stop-color="#585858"/><stop offset="1.000" stop-color="#545454"/></linearGradient>
<rect x="81.30" y="598.60" width="10.90" height="18.90" fill="url(#g1_1)"/>
<rect x="96.80" y="598.60" width="10.50" height="18.90" fill="url(#g1_1)"/>
<linearGradient id="g1_2" x1="0" y1="0" x2="0" y2="1"><stop offset="0.000" stop-color="#4e4e4e"/><stop offset="0.083" stop-color="#484848"/><stop offset="0.231" stop-color="#323232"/><stop offset="0.379" stop-color="#2e2e2e"/><stop offset="0.467" stop-color="#565656"/><stop offset="0.586" stop-color="#323232"/><stop offset="0.704" stop-color="#646464"/><stop offset="0.793" stop-color="#383838"/><stop offset="0.882" stop-color="#5a5a5a"/><stop offset="1.000" stop-color="#565656"/></linearGradient>
<rect x="111.90" y="598.60" width="10.60" height="18.90" fill="url(#g1_2)"/>
<linearGradient id="g1_3" x1="0" y1="0" x2="0" y2="1"><stop offset="0.000" stop-color="#505050"/><stop offset="0.083" stop-color="#4a4a4a"/><stop offset="0.231" stop-color="#343434"/><stop offset="0.379" stop-color="#303030"/><stop offset="0.467" stop-color="#585858"/><stop offset="0.586" stop-color="#343434"/><stop offset="0.704" stop-color="#666666"/><stop offset="0.793" stop-color="#3a3a3a"/><stop offset="0.882" stop-color="#5c5c5c"/><stop offset="1.000" stop-color="#585858"/></linearGradient>
<rect x="127.10" y="598.60" width="11.20" height="18.90" fill="url(#g1_3)"/>
<rect x="142.90" y="598.60" width="12.40" height="18.90" fill="url(#g1_3)"/>
</g></g></g>
<g><clipPath id="c2"><rect x="62.50" y="624.40" width="91.80" height="13.80"/></clipPath>
<rect x="61.00" y="622.90" width="94.80" height="16.80" fill="#000"/>
<g clip-path="url(#c2)"><g filter="url(#bl)">
<rect x="59.00" y="620.90" width="98.80" height="20.80" fill="#949494"/>
<linearGradient id="g2_0" x1="0" y1="0" x2="0" y2="1"><stop offset="0.000" stop-color="#525252"/><stop offset="0.188" stop-color="#4a4a4a"/><stop offset="0.283" stop-color="#3a3a3a"/><stop offset="0.391" stop-color="#606060"/><stop offset="0.478" stop-color="#4a4a4a"/><stop offset="0.572" stop-color="#161616"/><stop offset="0.667" stop-color="#323232"/><stop offset="0.768" stop-color="#6a6a6a"/><stop offset="0.913" stop-color="#5c5c5c"/><stop offset="1.000" stop-color="#565656"/></linearGradient>
<rect x="66.00" y="623.40" width="10.70" height="15.80" fill="url(#g2_0)"/>
<rect x="81.30" y="623.40" width="10.90" height="15.80" fill="url(#g2_0)"/>
<rect x="96.80" y="623.40" width="10.50" height="15.80" fill="url(#g2_0)"/>
<rect x="111.90" y="623.40" width="10.60" height="15.80" fill="url(#g2_0)"/>
<rect x="127.10" y="623.40" width="11.20" height="15.80" fill="url(#g2_0)"/>
<rect x="142.90" y="623.40" width="12.40" height="15.80" fill="url(#g2_0)"/>
</g></g></g>
<g><clipPath id="c3"><rect x="161.60" y="600.00" width="92.30" height="16.30"/></clipPath>
<rect x="160.10" y="598.50" width="95.30" height="19.30" fill="#000"/>
<g clip-path="url(#c3)"><g filter="url(#bl)">
<rect x="158.10" y="596.50" width="99.30" height="23.30" fill="#a6a6a6"/>
<linearGradient id="g3_0" x1="0" y1="0" x2="0" y2="1"><stop offset="0.000" stop-color="#484848"/><stop offset="0.092" stop-color="#3c3c3c"/><stop offset="0.172" stop-color="#1c1c1c"/><stop offset="0.264" stop-color="#303030"/><stop offset="0.337" stop-color="#505050"/><stop offset="0.429" stop-color="#303030"/><stop offset="0.491" stop-color="#181818"/><stop offset="0.571" stop-color="#383838"/><stop offset="0.663" stop-color="#585858"/><stop offset="0.767" stop-color="#303030"/><stop offset="0.822" stop-color="#1c1c1c"/><stop offset="0.896" stop-color="#484848"/><stop offset="1.000" stop-color="#505050"/></linearGradient>
<rect x="160.60" y="599.00" width="11.90" height="18.30" fill="url(#g3_0)"/>
<rect x="177.30" y="599.00" width="10.10" height="18.30" fill="url(#g3_0)"/>
<rect x="192.20" y="599.00" width="10.60" height="18.30" fill="url(#g3_0)"/>
<rect x="207.60" y="599.00" width="10.50" height="18.30" fill="url(#g3_0)"/>
<rect x="222.90" y="599.00" width="10.60" height="18.30" fill="url(#g3_0)"/>
<rect x="238.30" y="599.00" width="9.60" height="18.30" fill="url(#g3_0)"/>
<linearGradient id="g3_1" x1="0" y1="0" x2="0" y2="1"><stop offset="0.000" stop-color="#3e3e3e"/><stop offset="0.092" stop-color="#323232"/><stop offset="0.172" stop-color="#121212"/><stop offset="0.264" stop-color="#262626"/><stop offset="0.337" stop-color="#464646"/><stop offset="0.429" stop-color="#262626"/><stop offset="0.491" stop-color="#0e0e0e"/><stop offset="0.571" stop-color="#2e2e2e"/><stop offset="0.663" stop-color="#4e4e4e"/><stop offset="0.767" stop-color="#262626"/><stop offset="0.822" stop-color="#121212"/><stop offset="0.896" stop-color="#3e3e3e"/><stop offset="1.000" stop-color="#464646"/></linearGradient>
<rect x="252.70" y="599.00" width="2.20" height="18.30" fill="url(#g3_1)"/>
</g></g></g>
<g><clipPath id="c4"><rect x="161.60" y="624.30" width="92.30" height="13.70"/></clipPath>
<rect x="160.10" y="622.80" width="95.30" height="16.70" fill="#000"/>
<g clip-path="url(#c4)"><g filter="url(#bl)">
<rect x="158.10" y="620.80" width="99.30" height="20.70" fill="#909090"/>
<linearGradient id="g4_0" x1="0" y1="0" x2="0" y2="1"><stop offset="0.000" stop-color="#383838"/><stop offset="0.124" stop-color="#282828"/><stop offset="0.292" stop-color="#444444"/><stop offset="0.380" stop-color="#2a2a2a"/><stop offset="0.489" stop-color="#161616"/><stop offset="0.672" stop-color="#141414"/><stop offset="0.752" stop-color="#585858"/><stop offset="0.854" stop-color="#787878"/><stop offset="1.000" stop-color="#6c6c6c"/></linearGradient>
<rect x="160.60" y="623.30" width="12.10" height="15.70" fill="url(#g4_0)"/>
<rect x="177.10" y="623.30" width="10.50" height="15.70" fill="url(#g4_0)"/>
<rect x="192.00" y="623.30" width="11.00" height="15.70" fill="url(#g4_0)"/>
<rect x="207.40" y="623.30" width="10.90" height="15.70" fill="url(#g4_0)"/>
<rect x="222.70" y="623.30" width="11.00" height="15.70" fill="url(#g4_0)"/>
<rect x="238.10" y="623.30" width="10.00" height="15.70" fill="url(#g4_0)"/>
<rect x="252.50" y="623.30" width="2.40" height="15.70" fill="url(#g4_0)"/>
</g></g></g>
<g><clipPath id="c5"><rect x="261.70" y="599.60" width="90.50" height="16.00"/></clipPath>
<rect x="260.20" y="598.10" width="93.50" height="19.00" fill="#000"/>
<g clip-path="url(#c5)"><g filter="url(#bl)">
<rect x="258.20" y="596.10" width="97.50" height="23.00" fill="#a4a4a4"/>
<linearGradient id="g5_0" x1="0" y1="0" x2="0" y2="1"><stop offset="0.000" stop-color="#505050"/><stop offset="0.106" stop-color="#444444"/><stop offset="0.188" stop-color="#242424"/><stop offset="0.275" stop-color="#404040"/><stop offset="0.375" stop-color="#585858"/><stop offset="0.462" stop-color="#383838"/><stop offset="0.512" stop-color="#242424"/><stop offset="0.600" stop-color="#444444"/><stop offset="0.700" stop-color="#585858"/><stop offset="0.775" stop-color="#343434"/><stop offset="0.825" stop-color="#262626"/><stop offset="0.900" stop-color="#4c4c4c"/><stop offset="1.000" stop-color="#585858"/></linearGradient>
<rect x="260.70" y="598.60" width="13.10" height="18.00" fill="url(#g5_0)"/>
<rect x="278.60" y="598.60" width="10.20" height="18.00" fill="url(#g5_0)"/>
<rect x="293.60" y="598.60" width="10.40" height="18.00" fill="url(#g5_0)"/>
<rect x="308.80" y="598.60" width="10.60" height="18.00" fill="url(#g5_0)"/>
<rect x="324.20" y="598.60" width="10.20" height="18.00" fill="url(#g5_0)"/>
<rect x="339.20" y="598.60" width="9.00" height="18.00" fill="url(#g5_0)"/>
</g></g></g>
<g><clipPath id="c6"><rect x="260.40" y="624.30" width="91.80" height="14.10"/></clipPath>
<rect x="258.90" y="622.80" width="94.80" height="17.10" fill="#000"/>
<g clip-path="url(#c6)"><g filter="url(#bl)">
<rect x="256.90" y="620.80" width="98.80" height="21.10" fill="#8c8c8c"/>
<linearGradient id="g6_0" x1="0" y1="0" x2="0" y2="1"><stop offset="0.000" stop-color="#606060"/><stop offset="0.156" stop-color="#585858"/><stop offset="0.277" stop-color="#404040"/><stop offset="0.369" stop-color="#585858"/><stop offset="0.511" stop-color="#5c5c5c"/><stop offset="0.631" stop-color="#3c3c3c"/><stop offset="0.723" stop-color="#5a5a5a"/><stop offset="0.865" stop-color="#626262"/><stop offset="1.000" stop-color="#5c5c5c"/></linearGradient>
<rect x="259.40" y="623.30" width="14.60" height="16.10" fill="url(#g6_0)"/>
<rect x="278.40" y="623.30" width="10.60" height="16.10" fill="url(#g6_0)"/>
<rect x="293.40" y="623.30" width="10.80" height="16.10" fill="url(#g6_0)"/>
<rect x="308.60" y="623.30" width="11.00" height="16.10" fill="url(#g6_0)"/>
<rect x="324.00" y="623.30" width="10.60" height="16.10" fill="url(#g6_0)"/>
<rect x="339.00" y="623.30" width="9.40" height="16.10" fill="url(#g6_0)"/>
</g></g></g>
<g><clipPath id="c7"><rect x="361.10" y="599.60" width="90.70" height="16.50"/></clipPath>
<rect x="359.60" y="598.10" width="93.70" height="19.50" fill="#000"/>
<g clip-path="url(#c7)"><g filter="url(#bl)">
<rect x="357.60" y="596.10" width="97.70" height="23.50" fill="#acacac"/>
<linearGradient id="g7_0" x1="0" y1="0" x2="0" y2="1"><stop offset="0.000" stop-color="#505050"/><stop offset="0.115" stop-color="#404040"/><stop offset="0.206" stop-color="#1e1e1e"/><stop offset="0.285" stop-color="#383838"/><stop offset="0.376" stop-color="#585858"/><stop offset="0.461" stop-color="#303030"/><stop offset="0.509" stop-color="#1c1c1c"/><stop offset="0.588" stop-color="#3c3c3c"/><stop offset="0.679" stop-color="#585858"/><stop offset="0.770" stop-color="#2c2c2c"/><stop offset="0.812" stop-color="#1e1e1e"/><stop offset="0.897" stop-color="#484848"/><stop offset="1.000" stop-color="#505050"/></linearGradient>
<rect x="363.60" y="598.60" width="10.20" height="18.50" fill="url(#g7_0)"/>
<rect x="378.60" y="598.60" width="10.60" height="18.50" fill="url(#g7_0)"/>
<rect x="394.00" y="598.60" width="10.60" height="18.50" fill="url(#g7_0)"/>
<rect x="409.40" y="598.60" width="11.20" height="18.50" fill="url(#g7_0)"/>
<rect x="425.40" y="598.60" width="10.50" height="18.50" fill="url(#g7_0)"/>
<linearGradient id="g7_1" x1="0" y1="0" x2="0" y2="1"><stop offset="0.000" stop-color="#444444"/><stop offset="0.115" stop-color="#343434"/><stop offset="0.206" stop-color="#121212"/><stop offset="0.285" stop-color="#2c2c2c"/><stop offset="0.376" stop-color="#4c4c4c"/><stop offset="0.461" stop-color="#242424"/><stop offset="0.509" stop-color="#101010"/><stop offset="0.588" stop-color="#303030"/><stop offset="0.679" stop-color="#4c4c4c"/><stop offset="0.770" stop-color="#202020"/><stop offset="0.812" stop-color="#121212"/><stop offset="0.897" stop-color="#3c3c3c"/><stop offset="1.000" stop-color="#444444"/></linearGradient>
<rect x="440.70" y="598.60" width="9.50" height="18.50" fill="url(#g7_1)"/>
</g></g></g>
<g><clipPath id="c8"><rect x="361.10" y="624.00" width="90.70" height="14.40"/></clipPath>
<rect x="359.60" y="622.50" width="93.70" height="17.40" fill="#000"/>
<g clip-path="url(#c8)"><g filter="url(#bl)">
<rect x="357.60" y="620.50" width="97.70" height="21.40" fill="#909090"/>
<linearGradient id="g8_0" x1="0" y1="0" x2="0" y2="1"><stop offset="0.000" stop-color="#404040"/><stop offset="0.104" stop-color="#303030"/><stop offset="0.208" stop-color="#101010"/><stop offset="0.319" stop-color="#282828"/><stop offset="0.417" stop-color="#0c0c0c"/><stop offset="0.729" stop-color="#0c0c0c"/><stop offset="0.833" stop-color="#404040"/><stop offset="0.938" stop-color="#5c5c5c"/><stop offset="1.000" stop-color="#505050"/></linearGradient>
<rect x="363.90" y="623.00" width="10.40" height="16.40" fill="url(#g8_0)"/>
<rect x="378.10" y="623.00" width="11.60" height="16.40" fill="url(#g8_0)"/>
<rect x="393.50" y="623.00" width="11.60" height="16.40" fill="url(#g8_0)"/>
<rect x="408.90" y="623.00" width="12.20" height="16.40" fill="url(#g8_0)"/>
<rect x="424.90" y="623.00" width="11.50" height="16.40" fill="url(#g8_0)"/>
<rect x="440.20" y="623.00" width="10.10" height="16.40" fill="url(#g8_0)"/>
</g></g></g>
<g><clipPath id="c9"><rect x="63.30" y="676.70" width="91.00" height="16.00"/></clipPath>
<rect x="61.80" y="675.20" width="94.00" height="19.00" fill="#000"/>
<g clip-path="url(#c9)"><g filter="url(#bl2)">
<rect x="59.80" y="673.20" width="98.00" height="23.00" fill="#ffffff"/>
<linearGradient id="g9_0" x1="0" y1="0" x2="0" y2="1"><stop offset="0.000" stop-color="#a0a0a0"/><stop offset="0.081" stop-color="#808080"/><stop offset="0.169" stop-color="#585858"/><stop offset="0.244" stop-color="#1c1c1c"/><stop offset="0.331" stop-color="#0e0e0e"/><stop offset="0.394" stop-color="#484848"/><stop offset="0.438" stop-color="#606060"/><stop offset="0.487" stop-color="#303030"/><stop offset="0.550" stop-color="#101010"/><stop offset="0.612" stop-color="#383838"/><stop offset="0.656" stop-color="#4c4c4c"/><stop offset="0.706" stop-color="#202020"/><stop offset="0.769" stop-color="#141414"/><stop offset="0.831" stop-color="#404040"/><stop offset="0.894" stop-color="#808080"/><stop offset="0.956" stop-color="#a8a8a8"/><stop offset="1.000" stop-color="#c0c0c0"/></linearGradient>
<rect x="64.70" y="675.70" width="11.30" height="18.00" fill="url(#g9_0)"/>
<rect x="80.40" y="675.70" width="11.00" height="18.00" fill="url(#g9_0)"/>
<rect x="95.80" y="675.70" width="11.00" height="18.00" fill="url(#g9_0)"/>
<rect x="111.20" y="675.70" width="11.30" height="18.00" fill="url(#g9_0)"/>
<rect x="126.90" y="675.70" width="10.80" height="18.00" fill="url(#g9_0)"/>
<linearGradient id="g9_1" x1="0" y1="0" x2="0" y2="1"><stop offset="0.000" stop-color="#a8a8a8"/><stop offset="0.081" stop-color="#888888"/><stop offset="0.169" stop-color="#606060"/><stop offset="0.244" stop-color="#242424"/><stop offset="0.331" stop-color="#161616"/><stop offset="0.394" stop-color="#505050"/><stop offset="0.438" stop-color="#686868"/><stop offset="0.487" stop-color="#383838"/><stop offset="0.550" stop-color="#181818"/><stop offset="0.612" stop-color="#404040"/><stop offset="0.656" stop-color="#545454"/><stop offset="0.706" stop-color="#282828"/><stop offset="0.769" stop-color="#1c1c1c"/><stop offset="0.831" stop-color="#484848"/><stop offset="0.894" stop-color="#888888"/><stop offset="0.956" stop-color="#b0b0b0"/><stop offset="1.000" stop-color="#c8c8c8"/></linearGradient>
<rect x="142.10" y="675.70" width="10.90" height="18.00" fill="url(#g9_1)"/>
</g></g></g>
<g><clipPath id="c10"><rect x="61.80" y="701.40" width="93.80" height="17.80"/></clipPath>
<rect x="60.30" y="699.90" width="96.80" height="20.80" fill="#000"/>
<g clip-path="url(#c10)"><g filter="url(#bl2)">
<rect x="58.30" y="697.90" width="100.80" height="24.80" fill="#ffffff"/>
<linearGradient id="g10_0" x1="0" y1="0" x2="0" y2="1"><stop offset="0.000" stop-color="#888888"/><stop offset="0.056" stop-color="#484848"/><stop offset="0.124" stop-color="#181818"/><stop offset="0.258" stop-color="#101010"/><stop offset="0.506" stop-color="#141414"/><stop offset="0.556" stop-color="#505050"/><stop offset="0.601" stop-color="#707070"/><stop offset="0.652" stop-color="#383838"/><stop offset="0.719" stop-color="#121212"/><stop offset="0.775" stop-color="#383838"/><stop offset="0.815" stop-color="#545454"/><stop offset="0.860" stop-color="#242424"/><stop offset="0.904" stop-color="#383838"/><stop offset="0.955" stop-color="#808080"/><stop offset="1.000" stop-color="#b8b8b8"/></linearGradient>
<rect x="63.50" y="700.40" width="12.40" height="19.80" fill="url(#g10_0)"/>
<rect x="80.50" y="700.40" width="10.80" height="19.80" fill="url(#g10_0)"/>
<rect x="95.90" y="700.40" width="10.80" height="19.80" fill="url(#g10_0)"/>
<rect x="111.30" y="700.40" width="11.10" height="19.80" fill="url(#g10_0)"/>
<rect x="127.00" y="700.40" width="10.60" height="19.80" fill="url(#g10_0)"/>
<rect x="142.20" y="700.40" width="11.90" height="19.80" fill="url(#g10_0)"/>
</g></g></g>
<g><clipPath id="c11"><rect x="162.40" y="676.70" width="90.90" height="16.00"/></clipPath>
<rect x="160.90" y="675.20" width="93.90" height="19.00" fill="#000"/>
<g clip-path="url(#c11)"><g filter="url(#bl2)">
<rect x="158.90" y="673.20" width="97.90" height="23.00" fill="#ffffff"/>
<linearGradient id="g11_0" x1="0" y1="0" x2="0" y2="1"><stop offset="0.000" stop-color="#989898"/><stop offset="0.081" stop-color="#787878"/><stop offset="0.169" stop-color="#505050"/><stop offset="0.244" stop-color="#1c1c1c"/><stop offset="0.331" stop-color="#0e0e0e"/><stop offset="0.456" stop-color="#181818"/><stop offset="0.519" stop-color="#484848"/><stop offset="0.562" stop-color="#585858"/><stop offset="0.619" stop-color="#2c2c2c"/><stop offset="0.706" stop-color="#141414"/><stop offset="0.806" stop-color="#202020"/><stop offset="0.869" stop-color="#484848"/><stop offset="0.931" stop-color="#787878"/><stop offset="1.000" stop-color="#a0a0a0"/></linearGradient>
<rect x="161.40" y="675.70" width="11.70" height="18.00" fill="url(#g11_0)"/>
<rect x="177.50" y="675.70" width="11.40" height="18.00" fill="url(#g11_0)"/>
<rect x="193.30" y="675.70" width="12.10" height="18.00" fill="url(#g11_0)"/>
<rect x="209.80" y="675.70" width="11.40" height="18.00" fill="url(#g11_0)"/>
<rect x="225.60" y="675.70" width="12.50" height="18.00" fill="url(#g11_0)"/>
<rect x="242.50" y="675.70" width="11.80" height="18.00" fill="url(#g11_0)"/>
</g></g></g>
<g><clipPath id="c12"><rect x="161.40" y="701.40" width="92.80" height="17.80"/></clipPath>
<rect x="159.90" y="699.90" width="95.80" height="20.80" fill="#000"/>
<g clip-path="url(#c12)"><g filter="url(#bl2)">
<rect x="157.90" y="697.90" width="99.80" height="24.80" fill="#ffffff"/>
<linearGradient id="g12_0" x1="0" y1="0" x2="0" y2="1"><stop offset="0.000" stop-color="#787878"/><stop offset="0.056" stop-color="#383838"/><stop offset="0.124" stop-color="#121212"/><stop offset="0.258" stop-color="#0c0c0c"/><stop offset="0.494" stop-color="#101010"/><stop offset="0.539" stop-color="#505050"/><stop offset="0.584" stop-color="#747474"/><stop offset="0.640" stop-color="#404040"/><stop offset="0.708" stop-color="#121212"/><stop offset="0.809" stop-color="#1c1c1c"/><stop offset="0.876" stop-color="#484848"/><stop offset="0.944" stop-color="#787878"/><stop offset="1.000" stop-color="#a8a8a8"/></linearGradient>
<rect x="163.60" y="700.40" width="11.30" height="19.80" fill="url(#g12_0)"/>
<rect x="179.50" y="700.40" width="11.80" height="19.80" fill="url(#g12_0)"/>
<rect x="195.90" y="700.40" width="10.80" height="19.80" fill="url(#g12_0)"/>
<rect x="211.30" y="700.40" width="10.90" height="19.80" fill="url(#g12_0)"/>
<rect x="226.80" y="700.40" width="12.60" height="19.80" fill="url(#g12_0)"/>
<rect x="244.00" y="700.40" width="11.20" height="19.80" fill="url(#g12_0)"/>
</g></g></g>
<g><clipPath id="c13"><rect x="260.90" y="676.70" width="92.00" height="15.10"/></clipPath>
<rect x="259.40" y="675.20" width="95.00" height="18.10" fill="#000"/>
<g clip-path="url(#c13)"><g filter="url(#bl)">
<rect x="257.40" y="673.20" width="99.00" height="22.10" fill="#868686"/>
<linearGradient id="g13_0" x1="0" y1="0" x2="0" y2="1"><stop offset="0.000" stop-color="#484848"/><stop offset="0.119" stop-color="#383838"/><stop offset="0.219" stop-color="#303030"/><stop offset="0.305" stop-color="#101010"/><stop offset="0.417" stop-color="#040404"/><stop offset="0.550" stop-color="#060606"/><stop offset="0.636" stop-color="#383838"/><stop offset="0.781" stop-color="#4c4c4c"/><stop offset="1.000" stop-color="#545454"/></linearGradient>
<rect x="259.90" y="675.70" width="13.10" height="17.10" fill="url(#g13_0)"/>
<linearGradient id="g13_1" x1="0" y1="0" x2="0" y2="1"><stop offset="0.000" stop-color="#626262"/><stop offset="0.119" stop-color="#525252"/><stop offset="0.205" stop-color="#3e3e3e"/><stop offset="0.298" stop-color="#525252"/><stop offset="0.417" stop-color="#5a5a5a"/><stop offset="0.503" stop-color="#464646"/><stop offset="0.603" stop-color="#5a5a5a"/><stop offset="0.748" stop-color="#5a5a5a"/><stop offset="0.834" stop-color="#484848"/><stop offset="0.921" stop-color="#5a5a5a"/><stop offset="1.000" stop-color="#626262"/></linearGradient>
<rect x="277.40" y="675.70" width="11.00" height="17.10" fill="url(#g13_1)"/>
<linearGradient id="g13_2" x1="0" y1="0" x2="0" y2="1"><stop offset="0.000" stop-color="#646464"/><stop offset="0.119" stop-color="#545454"/><stop offset="0.205" stop-color="#404040"/><stop offset="0.298" stop-color="#545454"/><stop offset="0.417" stop-color="#5c5c5c"/><stop offset="0.503" stop-color="#484848"/><stop offset="0.603" stop-color="#5c5c5c"/><stop offset="0.748" stop-color="#5c5c5c"/><stop offset="0.834" stop-color="#4a4a4a"/><stop offset="0.921" stop-color="#5c5c5c"/><stop offset="1.000" stop-color="#646464"/></linearGradient>
<rect x="292.80" y="675.70" width="11.00" height="17.10" fill="url(#g13_2)"/>
<rect x="308.20" y="675.70" width="11.40" height="17.10" fill="url(#g13_2)"/>
<rect x="324.00" y="675.70" width="11.50" height="17.10" fill="url(#g13_2)"/>
<linearGradient id="g13_3" x1="0" y1="0" x2="0" y2="1"><stop offset="0.000" stop-color="#666666"/><stop offset="0.119" stop-color="#565656"/><stop offset="0.205" stop-color="#424242"/><stop offset="0.298" stop-color="#565656"/><stop offset="0.417" stop-color="#5e5e5e"/><stop offset="0.503" stop-color="#4a4a4a"/><stop offset="0.603" stop-color="#5e5e5e"/><stop offset="0.748" stop-color="#5e5e5e"/><stop offset="0.834" stop-color="#4c4c4c"/><stop offset="0.921" stop-color="#5e5e5e"/><stop offset="1.000" stop-color="#666666"/></linearGradient>
<rect x="339.90" y="675.70" width="10.50" height="17.10" fill="url(#g13_3)"/>
</g></g></g>
<g><clipPath id="c14"><rect x="260.90" y="701.40" width="92.00" height="17.30"/></clipPath>
<rect x="259.40" y="699.90" width="95.00" height="20.30" fill="#000"/>
<g clip-path="url(#c14)"><g filter="url(#bl)">
<rect x="257.40" y="697.90" width="99.00" height="24.30" fill="#8a8a8a"/>
<linearGradient id="g14_0" x1="0" y1="0" x2="0" y2="1"><stop offset="0.000" stop-color="#505050"/><stop offset="0.121" stop-color="#3c3c3c"/><stop offset="0.237" stop-color="#343434"/><stop offset="0.301" stop-color="#1c1c1c"/><stop offset="0.370" stop-color="#383838"/><stop offset="0.451" stop-color="#343434"/><stop offset="0.520" stop-color="#1a1a1a"/><stop offset="0.590" stop-color="#383838"/><stop offset="0.682" stop-color="#363636"/><stop offset="0.746" stop-color="#1e1e1e"/><stop offset="0.821" stop-color="#3c3c3c"/><stop offset="0.960" stop-color="#4c4c4c"/><stop offset="1.000" stop-color="#585858"/></linearGradient>
<rect x="259.90" y="700.40" width="13.10" height="19.30" fill="url(#g14_0)"/>
<rect x="277.40" y="700.40" width="11.00" height="19.30" fill="url(#g14_0)"/>
<rect x="292.80" y="700.40" width="11.00" height="19.30" fill="url(#g14_0)"/>
<rect x="308.20" y="700.40" width="11.40" height="19.30" fill="url(#g14_0)"/>
<rect x="324.00" y="700.40" width="11.50" height="19.30" fill="url(#g14_0)"/>
<rect x="339.90" y="700.40" width="10.50" height="19.30" fill="url(#g14_0)"/>
</g></g></g>
<g><clipPath id="c15"><rect x="362.90" y="677.20" width="90.00" height="15.20"/></clipPath>
<rect x="361.40" y="675.70" width="93.00" height="18.20" fill="#000"/>
<g clip-path="url(#c15)"><g filter="url(#bl)">
<rect x="359.40" y="673.70" width="97.00" height="22.20" fill="#8c8c8c"/>
<linearGradient id="g15_0" x1="0" y1="0" x2="0" y2="1"><stop offset="0.000" stop-color="#484848"/><stop offset="0.086" stop-color="#303030"/><stop offset="0.204" stop-color="#282828"/><stop offset="0.289" stop-color="#121212"/><stop offset="0.382" stop-color="#282828"/><stop offset="0.461" stop-color="#404040"/><stop offset="0.539" stop-color="#202020"/><stop offset="0.612" stop-color="#101010"/><stop offset="0.711" stop-color="#2c2c2c"/><stop offset="0.842" stop-color="#383838"/><stop offset="0.974" stop-color="#4c4c4c"/><stop offset="1.000" stop-color="#585858"/></linearGradient>
<rect x="361.90" y="676.20" width="12.70" height="17.20" fill="url(#g15_0)"/>
<rect x="379.00" y="676.20" width="11.30" height="17.20" fill="url(#g15_0)"/>
<rect x="394.70" y="676.20" width="11.00" height="17.20" fill="url(#g15_0)"/>
<linearGradient id="g15_1" x1="0" y1="0" x2="0" y2="1"><stop offset="0.000" stop-color="#4e4e4e"/><stop offset="0.086" stop-color="#363636"/><stop offset="0.204" stop-color="#2e2e2e"/><stop offset="0.289" stop-color="#181818"/><stop offset="0.382" stop-color="#2e2e2e"/><stop offset="0.461" stop-color="#464646"/><stop offset="0.539" stop-color="#262626"/><stop offset="0.612" stop-color="#161616"/><stop offset="0.711" stop-color="#323232"/><stop offset="0.842" stop-color="#3e3e3e"/><stop offset="0.974" stop-color="#525252"/><stop offset="1.000" stop-color="#5e5e5e"/></linearGradient>
<rect x="410.10" y="676.20" width="10.60" height="17.20" fill="url(#g15_1)"/>
<linearGradient id="g15_2" x1="0" y1="0" x2="0" y2="1"><stop offset="0.000" stop-color="#545454"/><stop offset="0.086" stop-color="#3c3c3c"/><stop offset="0.204" stop-color="#343434"/><stop offset="0.289" stop-color="#1e1e1e"/><stop offset="0.382" stop-color="#343434"/><stop offset="0.461" stop-color="#4c4c4c"/><stop offset="0.539" stop-color="#2c2c2c"/><stop offset="0.612" stop-color="#1c1c1c"/><stop offset="0.711" stop-color="#383838"/><stop offset="0.842" stop-color="#444444"/><stop offset="0.974" stop-color="#585858"/><stop offset="1.000" stop-color="#646464"/></linearGradient>
<rect x="425.10" y="676.20" width="11.40" height="17.20" fill="url(#g15_2)"/>
<linearGradient id="g15_3" x1="0" y1="0" x2="0" y2="1"><stop offset="0.000" stop-color="#646464"/><stop offset="0.086" stop-color="#4c4c4c"/><stop offset="0.204" stop-color="#444444"/><stop offset="0.289" stop-color="#2e2e2e"/><stop offset="0.382" stop-color="#444444"/><stop offset="0.461" stop-color="#5c5c5c"/><stop offset="0.539" stop-color="#3c3c3c"/><stop offset="0.612" stop-color="#2c2c2c"/><stop offset="0.711" stop-color="#484848"/><stop offset="0.842" stop-color="#545454"/><stop offset="0.974" stop-color="#686868"/><stop offset="1.000" stop-color="#747474"/></linearGradient>
<rect x="440.90" y="676.20" width="9.90" height="17.20" fill="url(#g15_3)"/>
</g></g></g>
<g><clipPath id="c16"><rect x="361.70" y="701.40" width="91.40" height="17.80"/></clipPath>
<rect x="360.20" y="699.90" width="94.40" height="20.80" fill="#000"/>
<g clip-path="url(#c16)"><g filter="url(#bl)">
<rect x="358.20" y="697.90" width="98.40" height="24.80" fill="#909090"/>
<linearGradient id="g16_0" x1="0" y1="0" x2="0" y2="1"><stop offset="0.000" stop-color="#404040"/><stop offset="0.090" stop-color="#282828"/><stop offset="0.202" stop-color="#202020"/><stop offset="0.287" stop-color="#0e0e0e"/><stop offset="0.371" stop-color="#282828"/><stop offset="0.438" stop-color="#505050"/><stop offset="0.506" stop-color="#303030"/><stop offset="0.596" stop-color="#0e0e0e"/><stop offset="0.685" stop-color="#242424"/><stop offset="0.792" stop-color="#303030"/><stop offset="0.904" stop-color="#444444"/><stop offset="1.000" stop-color="#505050"/></linearGradient>
<rect x="360.70" y="700.40" width="12.30" height="19.80" fill="url(#g16_0)"/>
<rect x="377.40" y="700.40" width="11.40" height="19.80" fill="url(#g16_0)"/>
<rect x="393.20" y="700.40" width="11.00" height="19.80" fill="url(#g16_0)"/>
<rect x="408.60" y="700.40" width="10.60" height="19.80" fill="url(#g16_0)"/>
<rect x="423.60" y="700.40" width="11.90" height="19.80" fill="url(#g16_0)"/>
<linearGradient id="g16_1" x1="0" y1="0" x2="0" y2="1"><stop offset="0.000" stop-color="#363636"/><stop offset="0.090" stop-color="#1e1e1e"/><stop offset="0.202" stop-color="#161616"/><stop offset="0.287" stop-color="#040404"/><stop offset="0.371" stop-color="#1e1e1e"/><stop offset="0.438" stop-color="#464646"/><stop offset="0.506" stop-color="#262626"/><stop offset="0.596" stop-color="#040404"/><stop offset="0.685" stop-color="#1a1a1a"/><stop offset="0.792" stop-color="#262626"/><stop offset="0.904" stop-color="#3a3a3a"/><stop offset="1.000" stop-color="#464646"/></linearGradient>
<rect x="439.90" y="700.40" width="10.90" height="19.80" fill="url(#g16_1)"/>
</g></g></g>
<g><clipPath id="c17"><rect x="63.30" y="766.30" width="89.60" height="15.60"/></clipPath>
<rect x="61.80" y="764.80" width="92.60" height="18.60" fill="#000"/>
<g clip-path="url(#c17)"><g filter="url(#bl)">
<rect x="59.80" y="762.80" width="96.60" height="22.60" fill="#8c8c8c"/>
<linearGradient id="g17_0" x1="0" y1="0" x2="0" y2="1"><stop offset="0.000" stop-color="#5c5c5c"/><stop offset="0.173" stop-color="#545454"/><stop offset="0.333" stop-color="#505050"/><stop offset="0.404" stop-color="#404040"/><stop offset="0.481" stop-color="#525252"/><stop offset="0.583" stop-color="#404040"/><stop offset="0.660" stop-color="#181818"/><stop offset="0.724" stop-color="#1c1c1c"/><stop offset="0.814" stop-color="#505050"/><stop offset="0.942" stop-color="#5c5c5c"/><stop offset="1.000" stop-color="#606060"/></linearGradient>
<rect x="65.50" y="765.30" width="9.60" height="17.60" fill="url(#g17_0)"/>
<rect x="79.30" y="765.30" width="11.20" height="17.60" fill="url(#g17_0)"/>
<rect x="94.70" y="765.30" width="10.80" height="17.60" fill="url(#g17_0)"/>
<rect x="109.70" y="765.30" width="11.60" height="17.60" fill="url(#g17_0)"/>
<linearGradient id="g17_1" x1="0" y1="0" x2="0" y2="1"><stop offset="0.000" stop-color="#606060"/><stop offset="0.333" stop-color="#585858"/><stop offset="0.404" stop-color="#4c4c4c"/><stop offset="0.481" stop-color="#5a5a5a"/><stop offset="0.596" stop-color="#4c4c4c"/><stop offset="0.673" stop-color="#343434"/><stop offset="0.750" stop-color="#444444"/><stop offset="0.846" stop-color="#5c5c5c"/><stop offset="1.000" stop-color="#666666"/></linearGradient>
<rect x="125.50" y="765.30" width="11.20" height="17.60" fill="url(#g17_1)"/>
<linearGradient id="g17_2" x1="0" y1="0" x2="0" y2="1"><stop offset="0.000" stop-color="#5c5c5c"/><stop offset="0.333" stop-color="#545454"/><stop offset="0.404" stop-color="#444444"/><stop offset="0.481" stop-color="#585858"/><stop offset="0.596" stop-color="#484848"/><stop offset="0.673" stop-color="#303030"/><stop offset="0.750" stop-color="#404040"/><stop offset="0.846" stop-color="#585858"/><stop offset="1.000" stop-color="#606060"/></linearGradient>
<rect x="140.90" y="765.30" width="10.20" height="17.60" fill="url(#g17_2)"/>
</g></g></g>
<g><clipPath id="c18"><rect x="62.40" y="789.00" width="91.00" height="17.40"/></clipPath>
<rect x="60.90" y="787.50" width="94.00" height="20.40" fill="#000"/>
<g clip-path="url(#c18)"><g filter="url(#bl)">
<rect x="58.90" y="785.50" width="98.00" height="24.40" fill="#8a8a8a"/>
<linearGradient id="g18_0" x1="0" y1="0" x2="0" y2="1"><stop offset="0.000" stop-color="#505050"/><stop offset="0.086" stop-color="#343434"/><stop offset="0.172" stop-color="#444444"/><stop offset="0.310" stop-color="#383838"/><stop offset="0.379" stop-color="#181818"/><stop offset="0.448" stop-color="#343434"/><stop offset="0.529" stop-color="#383838"/><stop offset="0.598" stop-color="#161616"/><stop offset="0.678" stop-color="#383838"/><stop offset="0.805" stop-color="#484848"/><stop offset="0.948" stop-color="#545454"/><stop offset="1.000" stop-color="#585858"/></linearGradient>
<rect x="64.70" y="788.00" width="10.40" height="19.40" fill="url(#g18_0)"/>
<rect x="79.30" y="788.00" width="11.20" height="19.40" fill="url(#g18_0)"/>
<rect x="94.70" y="788.00" width="10.80" height="19.40" fill="url(#g18_0)"/>
<rect x="109.70" y="788.00" width="11.60" height="19.40" fill="url(#g18_0)"/>
<rect x="125.50" y="788.00" width="11.20" height="19.40" fill="url(#g18_0)"/>
<rect x="140.90" y="788.00" width="10.40" height="19.40" fill="url(#g18_0)"/>
</g></g></g>
<g><clipPath id="c19"><rect x="159.40" y="766.30" width="90.00" height="15.90"/></clipPath>
<rect x="157.90" y="764.80" width="93.00" height="18.90" fill="#000"/>
<g clip-path="url(#c19)"><g filter="url(#bl)">
<rect x="155.90" y="762.80" width="97.00" height="22.90" fill="#8c8c8c"/>
<linearGradient id="g19_0" x1="0" y1="0" x2="0" y2="1"><stop offset="0.000" stop-color="#585858"/><stop offset="0.170" stop-color="#4c4c4c"/><stop offset="0.327" stop-color="#484848"/><stop offset="0.396" stop-color="#343434"/><stop offset="0.459" stop-color="#262626"/><stop offset="0.535" stop-color="#404040"/><stop offset="0.610" stop-color="#505050"/><stop offset="0.698" stop-color="#343434"/><stop offset="0.761" stop-color="#262626"/><stop offset="0.836" stop-color="#444444"/><stop offset="0.956" stop-color="#545454"/><stop offset="1.000" stop-color="#5c5c5c"/></linearGradient>
<rect x="158.40" y="765.30" width="12.80" height="17.90" fill="url(#g19_0)"/>
<linearGradient id="g19_1" x1="0" y1="0" x2="0" y2="1"><stop offset="0.000" stop-color="#5c5c5c"/><stop offset="0.170" stop-color="#505050"/><stop offset="0.327" stop-color="#4c4c4c"/><stop offset="0.396" stop-color="#383838"/><stop offset="0.459" stop-color="#2a2a2a"/><stop offset="0.535" stop-color="#444444"/><stop offset="0.610" stop-color="#545454"/><stop offset="0.698" stop-color="#383838"/><stop offset="0.761" stop-color="#2a2a2a"/><stop offset="0.836" stop-color="#484848"/><stop offset="0.956" stop-color="#585858"/><stop offset="1.000" stop-color="#606060"/></linearGradient>
<rect x="175.40" y="765.30" width="10.60" height="17.90" fill="url(#g19_1)"/>
<linearGradient id="g19_2" x1="0" y1="0" x2="0" y2="1"><stop offset="0.000" stop-color="#606060"/><stop offset="0.170" stop-color="#545454"/><stop offset="0.327" stop-color="#505050"/><stop offset="0.396" stop-color="#3c3c3c"/><stop offset="0.459" stop-color="#2e2e2e"/><stop offset="0.535" stop-color="#484848"/><stop offset="0.610" stop-color="#585858"/><stop offset="0.698" stop-color="#3c3c3c"/><stop offset="0.761" stop-color="#2e2e2e"/><stop offset="0.836" stop-color="#4c4c4c"/><stop offset="0.956" stop-color="#5c5c5c"/><stop offset="1.000" stop-color="#646464"/></linearGradient>
<rect x="190.20" y="765.30" width="11.20" height="17.90" fill="url(#g19_2)"/>
<linearGradient id="g19_3" x1="0" y1="0" x2="0" y2="1"><stop offset="0.000" stop-color="#666666"/><stop offset="0.170" stop-color="#5a5a5a"/><stop offset="0.327" stop-color="#565656"/><stop offset="0.396" stop-color="#424242"/><stop offset="0.459" stop-color="#343434"/><stop offset="0.535" stop-color="#4e4e4e"/><stop offset="0.610" stop-color="#5e5e5e"/><stop offset="0.698" stop-color="#424242"/><stop offset="0.761" stop-color="#343434"/><stop offset="0.836" stop-color="#525252"/><stop offset="0.956" stop-color="#626262"/><stop offset="1.000" stop-color="#6a6a6a"/></linearGradient>
<rect x="205.60" y="765.30" width="11.30" height="17.90" fill="url(#g19_3)"/>
<linearGradient id="g19_4" x1="0" y1="0" x2="0" y2="1"><stop offset="0.000" stop-color="#727272"/><stop offset="0.170" stop-color="#666666"/><stop offset="0.327" stop-color="#626262"/><stop offset="0.396" stop-color="#4e4e4e"/><stop offset="0.459" stop-color="#404040"/><stop offset="0.535" stop-color="#5a5a5a"/><stop offset="0.610" stop-color="#6a6a6a"/><stop offset="0.698" stop-color="#4e4e4e"/><stop offset="0.761" stop-color="#404040"/><stop offset="0.836" stop-color="#5e5e5e"/><stop offset="0.956" stop-color="#6e6e6e"/><stop offset="1.000" stop-color="#767676"/></linearGradient>
<rect x="221.10" y="765.30" width="11.00" height="17.90" fill="url(#g19_4)"/>
<linearGradient id="g19_5" x1="0" y1="0" x2="0" y2="1"><stop offset="0.000" stop-color="#7c7c7c"/><stop offset="0.170" stop-color="#707070"/><stop offset="0.327" stop-color="#6c6c6c"/><stop offset="0.396" stop-color="#585858"/><stop offset="0.459" stop-color="#4a4a4a"/><stop offset="0.535" stop-color="#646464"/><stop offset="0.610" stop-color="#747474"/><stop offset="0.698" stop-color="#585858"/><stop offset="0.761" stop-color="#4a4a4a"/><stop offset="0.836" stop-color="#686868"/><stop offset="0.956" stop-color="#787878"/><stop offset="1.000" stop-color="#808080"/></linearGradient>
<rect x="236.30" y="765.30" width="14.10" height="17.90" fill="url(#g19_5)"/>
</g></g></g>
<g><clipPath id="c20"><rect x="158.40" y="789.00" width="91.00" height="17.40"/></clipPath>
<rect x="156.90" y="787.50" width="94.00" height="20.40" fill="#000"/>
<g clip-path="url(#c20)"><g filter="url(#bl)">
<rect x="154.90" y="785.50" width="98.00" height="24.40" fill="#7c7c7c"/>
<linearGradient id="g20_0" x1="0" y1="0" x2="0" y2="1"><stop offset="0.000" stop-color="#444444"/><stop offset="0.086" stop-color="#343434"/><stop offset="0.172" stop-color="#181818"/><stop offset="0.264" stop-color="#202020"/><stop offset="0.333" stop-color="#383838"/><stop offset="0.402" stop-color="#1c1c1c"/><stop offset="0.489" stop-color="#0e0e0e"/><stop offset="0.747" stop-color="#101010"/><stop offset="0.833" stop-color="#242424"/><stop offset="0.920" stop-color="#3c3c3c"/><stop offset="1.000" stop-color="#444444"/></linearGradient>
<rect x="157.40" y="788.00" width="13.50" height="19.40" fill="url(#g20_0)"/>
<rect x="174.50" y="788.00" width="11.40" height="19.40" fill="url(#g20_0)"/>
<rect x="189.50" y="788.00" width="11.80" height="19.40" fill="url(#g20_0)"/>
<rect x="204.90" y="788.00" width="11.80" height="19.40" fill="url(#g20_0)"/>
<rect x="220.30" y="788.00" width="11.40" height="19.40" fill="url(#g20_0)"/>
<rect x="235.30" y="788.00" width="15.10" height="19.40" fill="url(#g20_0)"/>
</g></g></g>
<g><clipPath id="c21"><rect x="255.90" y="765.50" width="96.60" height="17.50"/></clipPath>
<rect x="254.40" y="764.00" width="99.60" height="20.50" fill="#000"/>
<g clip-path="url(#c21)"><g filter="url(#bl2)">
<rect x="252.40" y="762.00" width="103.60" height="24.50" fill="#e4e4e4"/>
<linearGradient id="g21_0" x1="0" y1="0" x2="0" y2="1"><stop offset="0.000" stop-color="#585858"/><stop offset="0.086" stop-color="#505050"/><stop offset="0.177" stop-color="#383838"/><stop offset="0.246" stop-color="#101010"/><stop offset="0.343" stop-color="#080808"/><stop offset="0.463" stop-color="#101010"/><stop offset="0.531" stop-color="#303030"/><stop offset="0.611" stop-color="#3c3c3c"/><stop offset="0.691" stop-color="#2c2c2c"/><stop offset="0.760" stop-color="#141414"/><stop offset="0.851" stop-color="#1c1c1c"/><stop offset="0.897" stop-color="#585858"/><stop offset="0.954" stop-color="#888888"/><stop offset="1.000" stop-color="#989898"/></linearGradient>
<rect x="256.15" y="764.50" width="12.40" height="19.50" fill="url(#g21_0)"/>
<ellipse cx="262.35" cy="766.6" rx="5.60" ry="3.0" fill="url(#rb90)" opacity="1"/>
<ellipse cx="262.35" cy="776.2" rx="5.60" ry="2.6" fill="url(#rb70)" opacity="1"/>
<rect x="273.45" y="764.50" width="11.80" height="19.50" fill="url(#g21_0)"/>
<ellipse cx="279.35" cy="766.6" rx="5.30" ry="3.0" fill="url(#rb90)" opacity="1"/>
<ellipse cx="279.35" cy="776.2" rx="5.30" ry="2.6" fill="url(#rb70)" opacity="1"/>
<rect x="290.15" y="764.50" width="11.40" height="19.50" fill="url(#g21_0)"/>
<ellipse cx="295.85" cy="766.6" rx="5.10" ry="3.0" fill="url(#rb90)" opacity="1"/>
<ellipse cx="295.85" cy="776.2" rx="5.10" ry="2.6" fill="url(#rb70)" opacity="1"/>
<rect x="306.45" y="764.50" width="11.70" height="19.50" fill="url(#g21_0)"/>
<ellipse cx="312.30" cy="766.6" rx="5.25" ry="3.0" fill="url(#rb90)" opacity="1"/>
<ellipse cx="312.30" cy="776.2" rx="5.25" ry="2.6" fill="url(#rb70)" opacity="1"/>
<rect x="323.05" y="764.50" width="11.50" height="19.50" fill="url(#g21_0)"/>
<ellipse cx="328.80" cy="766.6" rx="5.15" ry="3.0" fill="url(#rb90)" opacity="1"/>
<ellipse cx="328.80" cy="776.2" rx="5.15" ry="2.6" fill="url(#rb70)" opacity="1"/>
<linearGradient id="g21_1" x1="0" y1="0" x2="0" y2="1"><stop offset="0.000" stop-color="#626262"/><stop offset="0.086" stop-color="#5a5a5a"/><stop offset="0.177" stop-color="#424242"/><stop offset="0.246" stop-color="#1a1a1a"/><stop offset="0.343" stop-color="#121212"/><stop offset="0.463" stop-color="#1a1a1a"/><stop offset="0.531" stop-color="#3a3a3a"/><stop offset="0.611" stop-color="#464646"/><stop offset="0.691" stop-color="#363636"/><stop offset="0.760" stop-color="#1e1e1e"/><stop offset="0.851" stop-color="#262626"/><stop offset="0.897" stop-color="#626262"/><stop offset="0.954" stop-color="#929292"/><stop offset="1.000" stop-color="#a2a2a2"/></linearGradient>
<rect x="339.45" y="764.50" width="11.50" height="19.50" fill="url(#g21_1)"/>
<ellipse cx="345.20" cy="766.6" rx="5.15" ry="3.0" fill="url(#rb90)" opacity="1"/>
<ellipse cx="345.20" cy="776.2" rx="5.15" ry="2.6" fill="url(#rb70)" opacity="1"/>
</g></g></g>
<g><clipPath id="c22"><rect x="255.90" y="789.50" width="96.60" height="17.50"/></clipPath>
<rect x="254.40" y="788.00" width="99.60" height="20.50" fill="#000"/>
<g clip-path="url(#c22)"><g filter="url(#bl2)">
<rect x="252.40" y="786.00" width="103.60" height="24.50" fill="#e8e8e8"/>
<linearGradient id="g22_0" x1="0" y1="0" x2="0" y2="1"><stop offset="0.000" stop-color="#c0c0c0"/><stop offset="0.109" stop-color="#b8b8b8"/><stop offset="0.171" stop-color="#989898"/><stop offset="0.234" stop-color="#acacac"/><stop offset="0.314" stop-color="#a0a0a0"/><stop offset="0.366" stop-color="#505050"/><stop offset="0.417" stop-color="#0c0c0c"/><stop offset="0.514" stop-color="#060606"/><stop offset="0.589" stop-color="#101010"/><stop offset="0.629" stop-color="#505050"/><stop offset="0.714" stop-color="#606060"/><stop offset="0.771" stop-color="#484848"/><stop offset="0.829" stop-color="#6c6c6c"/><stop offset="0.914" stop-color="#787878"/><stop offset="1.000" stop-color="#7c7c7c"/></linearGradient>
<rect x="256.10" y="788.50" width="12.50" height="19.50" fill="url(#g22_0)"/>
<rect x="273.40" y="788.50" width="11.90" height="19.50" fill="url(#g22_0)"/>
<rect x="290.10" y="788.50" width="11.50" height="19.50" fill="url(#g22_0)"/>
<rect x="306.40" y="788.50" width="11.80" height="19.50" fill="url(#g22_0)"/>
<rect x="323.00" y="788.50" width="11.60" height="19.50" fill="url(#g22_0)"/>
<rect x="339.40" y="788.50" width="11.60" height="19.50" fill="url(#g22_0)"/>
</g></g></g>
<g><clipPath id="c23"><rect x="359.10" y="765.50" width="96.50" height="17.20"/></clipPath>
<rect x="357.60" y="764.00" width="99.50" height="20.20" fill="#000"/>
<g clip-path="url(#c23)"><g filter="url(#bl2)">
<rect x="355.60" y="762.00" width="103.50" height="24.20" fill="#eaeaea"/>
<linearGradient id="g23_0" x1="0" y1="0" x2="0" y2="1"><stop offset="0.000" stop-color="#585858"/><stop offset="0.087" stop-color="#505050"/><stop offset="0.180" stop-color="#303030"/><stop offset="0.250" stop-color="#0c0c0c"/><stop offset="0.349" stop-color="#040404"/><stop offset="0.471" stop-color="#0a0a0a"/><stop offset="0.541" stop-color="#202020"/><stop offset="0.622" stop-color="#2a2a2a"/><stop offset="0.703" stop-color="#1c1c1c"/><stop offset="0.773" stop-color="#0a0a0a"/><stop offset="0.866" stop-color="#121212"/><stop offset="0.924" stop-color="#404040"/><stop offset="0.983" stop-color="#686868"/><stop offset="1.000" stop-color="#787878"/></linearGradient>
<rect x="362.10" y="764.50" width="10.60" height="19.20" fill="url(#g23_0)"/>
<ellipse cx="367.40" cy="766.6" rx="4.70" ry="3.0" fill="url(#rb90)" opacity="1"/>
<ellipse cx="367.40" cy="776.2" rx="4.70" ry="2.4" fill="url(#rb60)" opacity="0.95"/>
<rect x="377.30" y="764.50" width="11.80" height="19.20" fill="url(#g23_0)"/>
<ellipse cx="383.20" cy="766.6" rx="5.30" ry="3.0" fill="url(#rb90)" opacity="1"/>
<ellipse cx="383.20" cy="776.2" rx="5.30" ry="2.4" fill="url(#rb60)" opacity="0.95"/>
<rect x="393.70" y="764.50" width="11.60" height="19.20" fill="url(#g23_0)"/>
<ellipse cx="399.50" cy="766.6" rx="5.20" ry="3.0" fill="url(#rb90)" opacity="1"/>
<ellipse cx="399.50" cy="776.2" rx="5.20" ry="2.4" fill="url(#rb60)" opacity="0.95"/>
<rect x="409.90" y="764.50" width="11.40" height="19.20" fill="url(#g23_0)"/>
<ellipse cx="415.60" cy="766.6" rx="5.10" ry="3.0" fill="url(#rb90)" opacity="1"/>
<ellipse cx="415.60" cy="776.2" rx="5.10" ry="2.4" fill="url(#rb60)" opacity="0.95"/>
<rect x="425.90" y="764.50" width="12.20" height="19.20" fill="url(#g23_0)"/>
<ellipse cx="432.00" cy="766.6" rx="5.50" ry="3.0" fill="url(#rb90)" opacity="1"/>
<ellipse cx="432.00" cy="776.2" rx="5.50" ry="2.4" fill="url(#rb60)" opacity="0.95"/>
<linearGradient id="g23_1" x1="0" y1="0" x2="0" y2="1"><stop offset="0.000" stop-color="#626262"/><stop offset="0.087" stop-color="#5a5a5a"/><stop offset="0.180" stop-color="#3a3a3a"/><stop offset="0.250" stop-color="#161616"/><stop offset="0.349" stop-color="#0e0e0e"/><stop offset="0.471" stop-color="#141414"/><stop offset="0.541" stop-color="#2a2a2a"/><stop offset="0.622" stop-color="#343434"/><stop offset="0.703" stop-color="#262626"/><stop offset="0.773" stop-color="#141414"/><stop offset="0.866" stop-color="#1c1c1c"/><stop offset="0.924" stop-color="#4a4a4a"/><stop offset="0.983" stop-color="#727272"/><stop offset="1.000" stop-color="#828282"/></linearGradient>
<rect x="442.70" y="764.50" width="10.80" height="19.20" fill="url(#g23_1)"/>
<ellipse cx="448.10" cy="766.6" rx="4.80" ry="3.0" fill="url(#rb90)" opacity="1"/>
<ellipse cx="448.10" cy="776.2" rx="4.80" ry="2.4" fill="url(#rb60)" opacity="0.95"/>
</g></g></g>
<g><clipPath id="c24"><rect x="359.10" y="789.10" width="96.50" height="17.90"/></clipPath>
<rect x="357.60" y="787.60" width="99.50" height="20.90" fill="#000"/>
<g clip-path="url(#c24)"><g filter="url(#bl2)">
<rect x="355.60" y="785.60" width="103.50" height="24.90" fill="#eaeaea"/>
<linearGradient id="g24_0" x1="0" y1="0" x2="0" y2="1"><stop offset="0.000" stop-color="#909090"/><stop offset="0.106" stop-color="#989898"/><stop offset="0.190" stop-color="#909090"/><stop offset="0.251" stop-color="#808080"/><stop offset="0.307" stop-color="#505050"/><stop offset="0.358" stop-color="#101010"/><stop offset="0.469" stop-color="#080808"/><stop offset="0.570" stop-color="#101010"/><stop offset="0.615" stop-color="#444444"/><stop offset="0.687" stop-color="#525252"/><stop offset="0.743" stop-color="#3e3e3e"/><stop offset="0.799" stop-color="#545454"/><stop offset="0.888" stop-color="#666666"/><stop offset="1.000" stop-color="#6e6e6e"/></linearGradient>
<rect x="362.10" y="788.10" width="10.60" height="19.90" fill="url(#g24_0)"/>
<rect x="377.30" y="788.10" width="11.80" height="19.90" fill="url(#g24_0)"/>
<rect x="393.70" y="788.10" width="11.60" height="19.90" fill="url(#g24_0)"/>
<rect x="409.90" y="788.10" width="11.40" height="19.90" fill="url(#g24_0)"/>
<rect x="425.90" y="788.10" width="12.20" height="19.90" fill="url(#g24_0)"/>
<rect x="442.70" y="788.10" width="10.80" height="19.90" fill="url(#g24_0)"/>
</g></g></g>
<text x="108.5" y="576.9" font-size="9.7" text-anchor="middle" fill="#000">ITD</text>
<text x="207.9" y="576.9" font-size="9.7" text-anchor="middle" fill="#000">ITD D698N</text>
<text x="306.8" y="576.6" font-size="9.7" text-anchor="middle" fill="#000">ITD F691L</text>
<text x="406.8" y="578.0" font-size="9.7" text-anchor="middle" fill="#000">ITD Y693C</text>
<text x="56.7" y="588.8" font-size="7.55" text-anchor="end">Gilteritinib</text>
<text x="56.4" y="598.0" font-size="7.55" text-anchor="end">(nM)</text>
<text x="56.6" y="611.1" font-size="7.15" text-anchor="end">pFLT3</text>
<text x="56.6" y="629.4" font-size="7.15" text-anchor="end">tFLT3</text>
<text font-size="7.6" transform="translate(73.90 592.9) rotate(-90)">0</text>
<text font-size="7.6" transform="translate(88.30 592.9) rotate(-90)">5</text>
<text font-size="7.6" transform="translate(103.10 592.9) rotate(-90)">10</text>
<text font-size="7.6" transform="translate(119.00 592.9) rotate(-90)">25</text>
<text font-size="7.6" transform="translate(134.80 592.9) rotate(-90)">50</text>
<text font-size="7.6" transform="translate(149.40 592.9) rotate(-90)">100</text>
<text font-size="7.6" transform="translate(169.40 592.9) rotate(-90)">0</text>
<text font-size="7.6" transform="translate(185.40 592.9) rotate(-90)">5</text>
<text font-size="7.6" transform="translate(201.20 592.9) rotate(-90)">10</text>
<text font-size="7.6" transform="translate(217.10 592.9) rotate(-90)">25</text>
<text font-size="7.6" transform="translate(230.00 592.9) rotate(-90)">50</text>
<text font-size="7.6" transform="translate(245.40 592.9) rotate(-90)">100</text>
<text font-size="7.6" transform="translate(269.40 592.2) rotate(-90)">0</text>
<text font-size="7.6" transform="translate(284.20 592.2) rotate(-90)">5</text>
<text font-size="7.6" transform="translate(299.70 592.2) rotate(-90)">10</text>
<text font-size="7.6" transform="translate(315.10 592.2) rotate(-90)">25</text>
<text font-size="7.6" transform="translate(330.30 592.2) rotate(-90)">50</text>
<text font-size="7.6" transform="translate(343.40 592.2) rotate(-90)">100</text>
<text font-size="7.6" transform="translate(367.00 592.6) rotate(-90)">0</text>
<text font-size="7.6" transform="translate(383.20 592.6) rotate(-90)">5</text>
<text font-size="7.6" transform="translate(397.60 592.6) rotate(-90)">10</text>
<text font-size="7.6" transform="translate(415.50 592.6) rotate(-90)">25</text>
<text font-size="7.6" transform="translate(430.50 592.6) rotate(-90)">50</text>
<text font-size="7.6" transform="translate(446.30 592.6) rotate(-90)">100</text>
<text x="108.4" y="658.1" font-size="9.7" text-anchor="middle" fill="#000">ITD Y693N</text>
<text x="207.9" y="658.1" font-size="9.7" text-anchor="middle" fill="#000">ITD G697S</text>
<text x="307.3" y="658.1" font-size="9.7" text-anchor="middle" fill="#000">ITD D835V</text>
<text x="406.8" y="658.1" font-size="9.7" text-anchor="middle" fill="#000">ITD D835V/D698N</text>
<text x="56.7" y="668.3" font-size="7.55" text-anchor="end">Gilteritinib</text>
<text x="56.4" y="677.3" font-size="7.55" text-anchor="end">(nM)</text>
<text x="56.6" y="692.8" font-size="7.15" text-anchor="end">pFLT3</text>
<text x="56.6" y="714.4" font-size="7.15" text-anchor="end">tFLT3</text>
<text font-size="7.6" transform="translate(70.40 671.9) rotate(-90)">0</text>
<text font-size="7.6" transform="translate(87.30 671.9) rotate(-90)">5</text>
<text font-size="7.6" transform="translate(101.70 671.9) rotate(-90)">10</text>
<text font-size="7.6" transform="translate(117.90 671.9) rotate(-90)">25</text>
<text font-size="7.6" transform="translate(132.90 671.9) rotate(-90)">50</text>
<text font-size="7.6" transform="translate(148.70 671.9) rotate(-90)">100</text>
<text font-size="7.6" transform="translate(170.40 671.9) rotate(-90)">0</text>
<text font-size="7.6" transform="translate(186.20 671.9) rotate(-90)">5</text>
<text font-size="7.6" transform="translate(202.10 671.9) rotate(-90)">10</text>
<text font-size="7.6" transform="translate(217.50 671.9) rotate(-90)">25</text>
<text font-size="7.6" transform="translate(233.30 671.9) rotate(-90)">50</text>
<text font-size="7.6" transform="translate(251.20 671.9) rotate(-90)">100</text>
<text font-size="7.6" transform="translate(270.30 671.9) rotate(-90)">0</text>
<text font-size="7.6" transform="translate(284.70 671.9) rotate(-90)">5</text>
<text font-size="7.6" transform="translate(299.70 671.9) rotate(-90)">10</text>
<text font-size="7.6" transform="translate(316.50 671.9) rotate(-90)">25</text>
<text font-size="7.6" transform="translate(331.90 671.9) rotate(-90)">50</text>
<text font-size="7.6" transform="translate(347.20 671.9) rotate(-90)">100</text>
<text font-size="7.6" transform="translate(373.80 671.4) rotate(-90)">0</text>
<text font-size="7.6" transform="translate(386.70 671.4) rotate(-90)">5</text>
<text font-size="7.6" transform="translate(402.00 671.4) rotate(-90)">10</text>
<text font-size="7.6" transform="translate(416.50 671.4) rotate(-90)">25</text>
<text font-size="7.6" transform="translate(431.50 671.4) rotate(-90)">50</text>
<text font-size="7.6" transform="translate(446.70 671.4) rotate(-90)">100</text>
<text x="108.6" y="741" font-size="9.7" text-anchor="middle" fill="#000">ITD D835V/F691L</text>
<text x="207.9" y="741" font-size="9.7" text-anchor="middle" fill="#000">ITD D835V/Y693C</text>
<text x="307.3" y="741" font-size="9.7" text-anchor="middle" fill="#000">ITD D835V/Y693N</text>
<text x="406.4" y="741" font-size="9.7" text-anchor="middle" fill="#000">ITD D835V/G697S</text>
<text x="56.7" y="754.4" font-size="7.55" text-anchor="end">Gilteritinib</text>
<text x="56.4" y="763.6" font-size="7.55" text-anchor="end">(nM)</text>
<text x="56.6" y="778.1" font-size="7.15" text-anchor="end">pFLT3</text>
<text x="56.6" y="799.7" font-size="7.15" text-anchor="end">tFLT3</text>
<text font-size="7.6" transform="translate(72.30 758.8) rotate(-90)">0</text>
<text font-size="7.6" transform="translate(84.80 758.8) rotate(-90)">5</text>
<text font-size="7.6" transform="translate(101.20 758.8) rotate(-90)">10</text>
<text font-size="7.6" transform="translate(116.50 758.8) rotate(-90)">25</text>
<text font-size="7.6" transform="translate(130.40 758.8) rotate(-90)">50</text>
<text font-size="7.6" transform="translate(145.80 758.8) rotate(-90)">100</text>
<text font-size="7.6" transform="translate(166.80 758.8) rotate(-90)">0</text>
<text font-size="7.6" transform="translate(180.40 758.8) rotate(-90)">5</text>
<text font-size="7.6" transform="translate(194.70 758.8) rotate(-90)">10</text>
<text font-size="7.6" transform="translate(211.60 758.8) rotate(-90)">25</text>
<text font-size="7.6" transform="translate(225.00 758.8) rotate(-90)">50</text>
<text font-size="7.6" transform="translate(242.90 758.8) rotate(-90)">100</text>
<text font-size="7.6" transform="translate(263.70 758.5) rotate(-90)">0</text>
<text font-size="7.6" transform="translate(280.70 758.5) rotate(-90)">5</text>
<text font-size="7.6" transform="translate(298.50 758.5) rotate(-90)">10</text>
<text font-size="7.6" transform="translate(314.90 758.5) rotate(-90)">25</text>
<text font-size="7.6" transform="translate(330.70 758.5) rotate(-90)">50</text>
<text font-size="7.6" transform="translate(348.40 758.5) rotate(-90)">100</text>
<text font-size="7.6" transform="translate(367.80 758.5) rotate(-90)">0</text>
<text font-size="7.6" transform="translate(383.70 758.5) rotate(-90)">5</text>
<text font-size="7.6" transform="translate(399.90 758.5) rotate(-90)">10</text>
<text font-size="7.6" transform="translate(417.30 758.5) rotate(-90)">25</text>
<text font-size="7.6" transform="translate(433.10 758.5) rotate(-90)">50</text>
<text font-size="7.6" transform="translate(451.30 758.5) rotate(-90)">100</text>
<rect x="0" y="0" width="520" height="1.1" fill="#000"/><rect x="0" y="0" width="1.2" height="816" fill="#000"/><rect x="518.5" y="0" width="1.5" height="816" fill="#000"/><rect x="0" y="814.4" width="520" height="1.6" fill="#000"/>
</svg>
</body></html>
